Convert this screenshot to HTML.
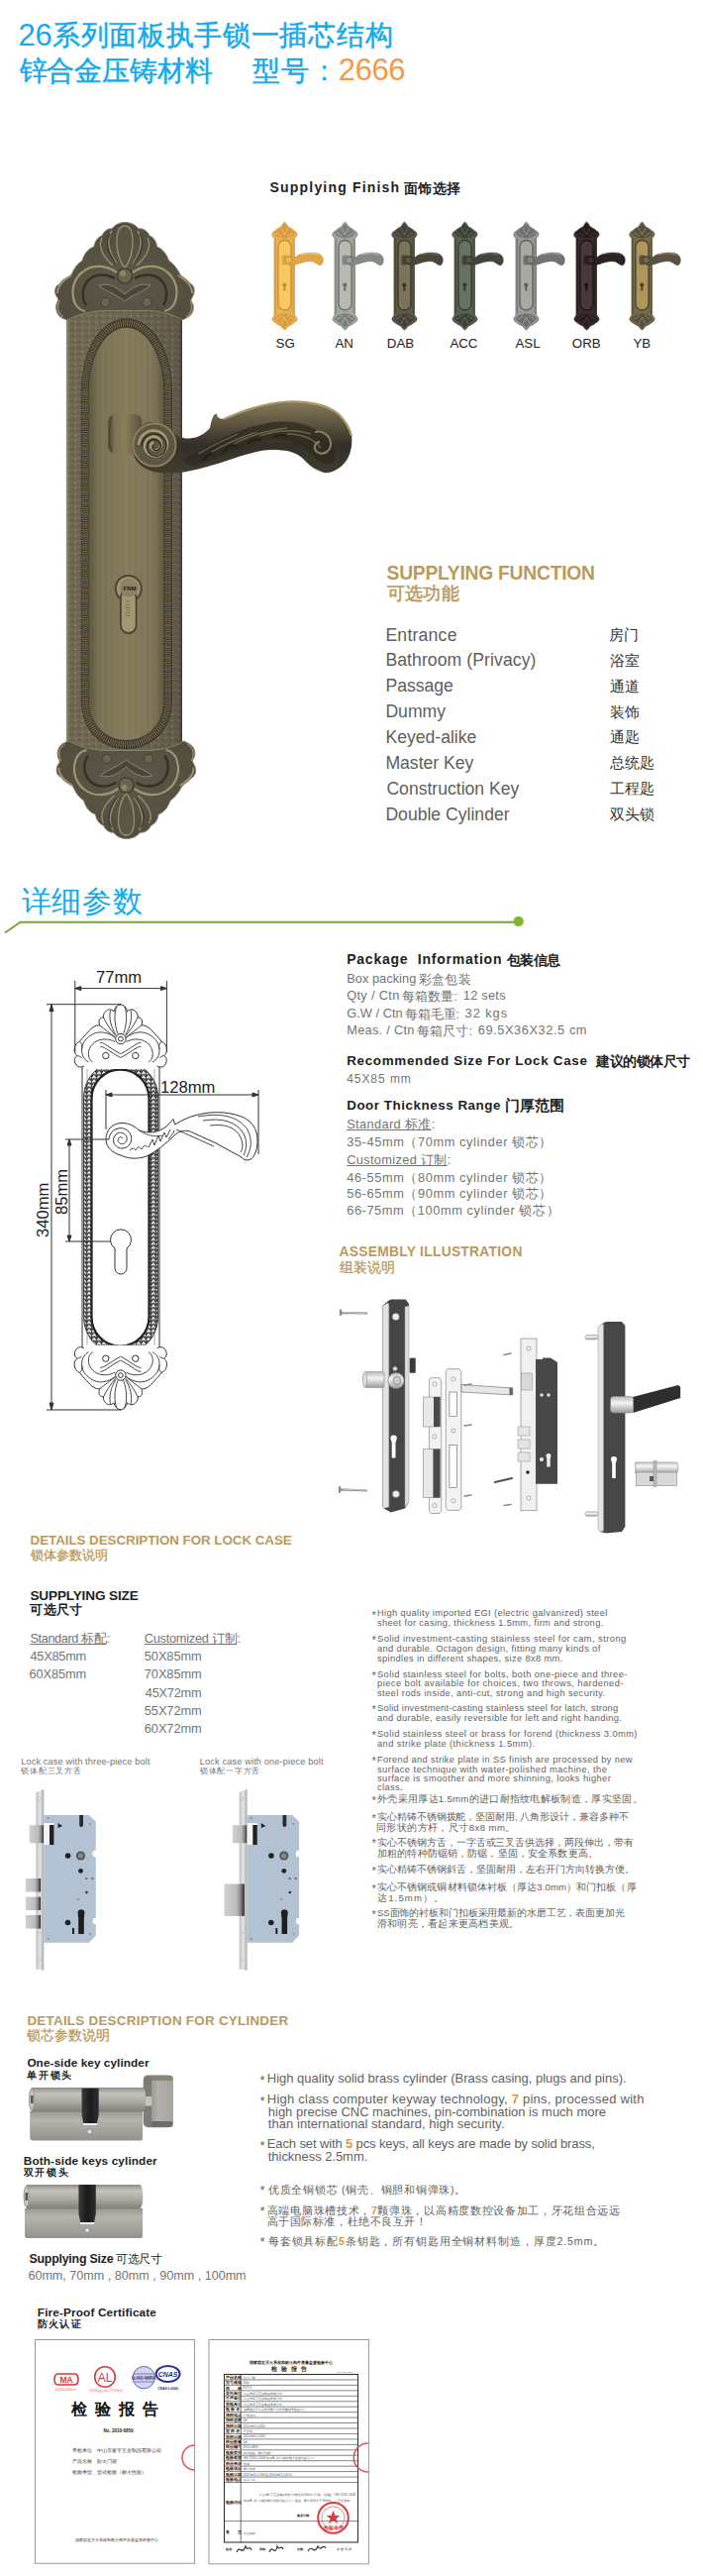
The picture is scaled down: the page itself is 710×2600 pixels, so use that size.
<!DOCTYPE html>
<html><head><meta charset="utf-8">
<style>
*{margin:0;padding:0;box-sizing:border-box}
html,body{width:710px;height:2600px;background:#fff;overflow:hidden}
body{position:relative;font-family:"Liberation Sans",sans-serif;color:#444}
.a{position:absolute;white-space:nowrap;line-height:1}
.t1{left:20px;font-size:28.5px;color:#1ea7e8;line-height:1}
.gold{color:#b99a5c;font-weight:bold}
.fn{font-size:16.5px;color:#555;line-height:1}
.fc{font-size:15px;color:#444;line-height:1}
.pk{font-size:13px;color:#555;line-height:1}
.pkh{font-size:14px;color:#222;font-weight:bold;line-height:1}
.u{text-decoration:underline}
.bl{font-size:9.6px;color:#555;line-height:10px}
.bl p{position:absolute;left:0;white-space:nowrap}
svg{position:absolute;overflow:visible}
</style></head><body>

<!-- SWATCHES -->
<svg style="left:275px;top:223.5px" width="60" height="112" viewBox="0 0 60 112">
<path d="M12.4,0 C14,1 15,3 16,5 C19,6 21,8 23,9.5 C25,10.5 25.5,12.5 24.5,14 C24,15 23,16 22.5,16.5 L22.5,94 C23,94.5 24,95.5 24.5,96.5 C25.5,98 25,100 23,101 C21,102.5 19,104 16,105 C15,107 14,108 12.4,109 C11,108 10,107 9,105 C6,104 4,102.5 2,101 C0,100 -0.5,98 0.5,96.5 C1,95.5 2,94.5 2,94 L2,16.5 C1.5,16 0.5,15 0,14 C-0.5,12.5 0,10.5 2,9.5 C4,8 6,6 9,5 C10,3 11,1 12.4,0 Z" fill="#e9b050" stroke="#c98a36" stroke-width="0.7"/>
<path d="M12.4,2 C15,5 20,8 23,11 C22,14 18,16 12.4,16.5 C7,16 3,14 1.8,11 C5,8 10,5 12.4,2 Z" fill="#d99a42"/>
<path d="M12.4,107 C15,104 20,101 23,98 C22,95 18,93 12.4,92.5 C7,93 3,95 1.8,98 C5,101 10,104 12.4,107 Z" fill="#d99a42"/>
<path d="M9,6 C10,9 12,11 12.4,13 C13,11 15,9 16,6 M4,11 C7,12 9,14 10,15 M21,11 C18,12 16,14 15,15 M9,103 C10,100 12,98 12.4,96 C13,98 15,100 16,103 M4,98 C7,97 9,95 10,94 M21,98 C18,97 16,95 15,94" stroke="#fff0b0" stroke-width="0.6" fill="none" opacity="0.8"/>
<path d="M3.5,17 L3.5,92 M21,17 L21,92" stroke="#c98a36" stroke-width="1" opacity="0.5"/>
<rect x="6" y="18.5" width="13" height="70.5" rx="6.5" fill="#f7c961" stroke="#c98a36" stroke-width="1.3"/>
<circle cx="12.3" cy="63.5" r="2.1" fill="#c98a36"/><rect x="11.3" y="63.5" width="2" height="6" fill="#c98a36"/>
<rect x="9.5" y="33.5" width="6" height="10" rx="2" fill="#e3a646"/>
<path d="M16,35 C19,34 20.5,35.5 22,36.5 C25,34.5 27,32.8 29,32.5 C34,31 40,30.5 45,31.5 C49,32.5 51.3,35 51.3,38.5 C51.3,41.5 50,43.8 48,43.8 C46,43.5 44,41 41,40 C36,39 31,40.5 27,42 C23,43.5 19,44 16,43 Z" fill="#e3a646" stroke="#c98a36" stroke-width="0.5"/>
<path d="M29,33 C35,31.5 42,31 47,33.5" stroke="#fff0b0" stroke-width="0.7" fill="none" opacity="0.8"/>
<circle cx="16.4" cy="38.5" r="4" fill="#e3a646" stroke="#c98a36" stroke-width="0.7"/>
<circle cx="16.6" cy="38.5" r="1.6" fill="none" stroke="#fff0b0" stroke-width="0.6" opacity="0.8"/>
</svg>
<svg style="left:336px;top:223.5px" width="60" height="112" viewBox="0 0 60 112">
<path d="M12.4,0 C14,1 15,3 16,5 C19,6 21,8 23,9.5 C25,10.5 25.5,12.5 24.5,14 C24,15 23,16 22.5,16.5 L22.5,94 C23,94.5 24,95.5 24.5,96.5 C25.5,98 25,100 23,101 C21,102.5 19,104 16,105 C15,107 14,108 12.4,109 C11,108 10,107 9,105 C6,104 4,102.5 2,101 C0,100 -0.5,98 0.5,96.5 C1,95.5 2,94.5 2,94 L2,16.5 C1.5,16 0.5,15 0,14 C-0.5,12.5 0,10.5 2,9.5 C4,8 6,6 9,5 C10,3 11,1 12.4,0 Z" fill="#a2a69e" stroke="#6a6e68" stroke-width="0.7"/>
<path d="M12.4,2 C15,5 20,8 23,11 C22,14 18,16 12.4,16.5 C7,16 3,14 1.8,11 C5,8 10,5 12.4,2 Z" fill="#7c807a"/>
<path d="M12.4,107 C15,104 20,101 23,98 C22,95 18,93 12.4,92.5 C7,93 3,95 1.8,98 C5,101 10,104 12.4,107 Z" fill="#7c807a"/>
<path d="M9,6 C10,9 12,11 12.4,13 C13,11 15,9 16,6 M4,11 C7,12 9,14 10,15 M21,11 C18,12 16,14 15,15 M9,103 C10,100 12,98 12.4,96 C13,98 15,100 16,103 M4,98 C7,97 9,95 10,94 M21,98 C18,97 16,95 15,94" stroke="#d8dcd4" stroke-width="0.6" fill="none" opacity="0.8"/>
<path d="M3.5,17 L3.5,92 M21,17 L21,92" stroke="#6a6e68" stroke-width="1" opacity="0.5"/>
<rect x="6" y="18.5" width="13" height="70.5" rx="6.5" fill="#b6bab2" stroke="#6a6e68" stroke-width="1.3"/>
<circle cx="12.3" cy="63.5" r="2.1" fill="#6a6e68"/><rect x="11.3" y="63.5" width="2" height="6" fill="#6a6e68"/>
<rect x="9.5" y="33.5" width="6" height="10" rx="2" fill="#868a84"/>
<path d="M16,35 C19,34 20.5,35.5 22,36.5 C25,34.5 27,32.8 29,32.5 C34,31 40,30.5 45,31.5 C49,32.5 51.3,35 51.3,38.5 C51.3,41.5 50,43.8 48,43.8 C46,43.5 44,41 41,40 C36,39 31,40.5 27,42 C23,43.5 19,44 16,43 Z" fill="#868a84" stroke="#6a6e68" stroke-width="0.5"/>
<path d="M29,33 C35,31.5 42,31 47,33.5" stroke="#d8dcd4" stroke-width="0.7" fill="none" opacity="0.8"/>
<circle cx="16.4" cy="38.5" r="4" fill="#868a84" stroke="#6a6e68" stroke-width="0.7"/>
<circle cx="16.6" cy="38.5" r="1.6" fill="none" stroke="#d8dcd4" stroke-width="0.6" opacity="0.8"/>
</svg>
<svg style="left:396px;top:223.5px" width="60" height="112" viewBox="0 0 60 112">
<path d="M12.4,0 C14,1 15,3 16,5 C19,6 21,8 23,9.5 C25,10.5 25.5,12.5 24.5,14 C24,15 23,16 22.5,16.5 L22.5,94 C23,94.5 24,95.5 24.5,96.5 C25.5,98 25,100 23,101 C21,102.5 19,104 16,105 C15,107 14,108 12.4,109 C11,108 10,107 9,105 C6,104 4,102.5 2,101 C0,100 -0.5,98 0.5,96.5 C1,95.5 2,94.5 2,94 L2,16.5 C1.5,16 0.5,15 0,14 C-0.5,12.5 0,10.5 2,9.5 C4,8 6,6 9,5 C10,3 11,1 12.4,0 Z" fill="#5e5846" stroke="#3a362b" stroke-width="0.7"/>
<path d="M12.4,2 C15,5 20,8 23,11 C22,14 18,16 12.4,16.5 C7,16 3,14 1.8,11 C5,8 10,5 12.4,2 Z" fill="#46423a"/>
<path d="M12.4,107 C15,104 20,101 23,98 C22,95 18,93 12.4,92.5 C7,93 3,95 1.8,98 C5,101 10,104 12.4,107 Z" fill="#46423a"/>
<path d="M9,6 C10,9 12,11 12.4,13 C13,11 15,9 16,6 M4,11 C7,12 9,14 10,15 M21,11 C18,12 16,14 15,15 M9,103 C10,100 12,98 12.4,96 C13,98 15,100 16,103 M4,98 C7,97 9,95 10,94 M21,98 C18,97 16,95 15,94" stroke="#9a9070" stroke-width="0.6" fill="none" opacity="0.8"/>
<path d="M3.5,17 L3.5,92 M21,17 L21,92" stroke="#3a362b" stroke-width="1" opacity="0.5"/>
<rect x="6" y="18.5" width="13" height="70.5" rx="6.5" fill="#7c7458" stroke="#3a362b" stroke-width="1.3"/>
<circle cx="12.3" cy="63.5" r="2.1" fill="#3a362b"/><rect x="11.3" y="63.5" width="2" height="6" fill="#3a362b"/>
<rect x="9.5" y="33.5" width="6" height="10" rx="2" fill="#4a4638"/>
<path d="M16,35 C19,34 20.5,35.5 22,36.5 C25,34.5 27,32.8 29,32.5 C34,31 40,30.5 45,31.5 C49,32.5 51.3,35 51.3,38.5 C51.3,41.5 50,43.8 48,43.8 C46,43.5 44,41 41,40 C36,39 31,40.5 27,42 C23,43.5 19,44 16,43 Z" fill="#4a4638" stroke="#3a362b" stroke-width="0.5"/>
<path d="M29,33 C35,31.5 42,31 47,33.5" stroke="#9a9070" stroke-width="0.7" fill="none" opacity="0.8"/>
<circle cx="16.4" cy="38.5" r="4" fill="#4a4638" stroke="#3a362b" stroke-width="0.7"/>
<circle cx="16.6" cy="38.5" r="1.6" fill="none" stroke="#9a9070" stroke-width="0.6" opacity="0.8"/>
</svg>
<svg style="left:457px;top:223.5px" width="60" height="112" viewBox="0 0 60 112">
<path d="M12.4,0 C14,1 15,3 16,5 C19,6 21,8 23,9.5 C25,10.5 25.5,12.5 24.5,14 C24,15 23,16 22.5,16.5 L22.5,94 C23,94.5 24,95.5 24.5,96.5 C25.5,98 25,100 23,101 C21,102.5 19,104 16,105 C15,107 14,108 12.4,109 C11,108 10,107 9,105 C6,104 4,102.5 2,101 C0,100 -0.5,98 0.5,96.5 C1,95.5 2,94.5 2,94 L2,16.5 C1.5,16 0.5,15 0,14 C-0.5,12.5 0,10.5 2,9.5 C4,8 6,6 9,5 C10,3 11,1 12.4,0 Z" fill="#586050" stroke="#343a2e" stroke-width="0.7"/>
<path d="M12.4,2 C15,5 20,8 23,11 C22,14 18,16 12.4,16.5 C7,16 3,14 1.8,11 C5,8 10,5 12.4,2 Z" fill="#3c4236"/>
<path d="M12.4,107 C15,104 20,101 23,98 C22,95 18,93 12.4,92.5 C7,93 3,95 1.8,98 C5,101 10,104 12.4,107 Z" fill="#3c4236"/>
<path d="M9,6 C10,9 12,11 12.4,13 C13,11 15,9 16,6 M4,11 C7,12 9,14 10,15 M21,11 C18,12 16,14 15,15 M9,103 C10,100 12,98 12.4,96 C13,98 15,100 16,103 M4,98 C7,97 9,95 10,94 M21,98 C18,97 16,95 15,94" stroke="#8a947a" stroke-width="0.6" fill="none" opacity="0.8"/>
<path d="M3.5,17 L3.5,92 M21,17 L21,92" stroke="#343a2e" stroke-width="1" opacity="0.5"/>
<rect x="6" y="18.5" width="13" height="70.5" rx="6.5" fill="#687260" stroke="#343a2e" stroke-width="1.3"/>
<circle cx="12.3" cy="63.5" r="2.1" fill="#343a2e"/><rect x="11.3" y="63.5" width="2" height="6" fill="#343a2e"/>
<rect x="9.5" y="33.5" width="6" height="10" rx="2" fill="#40463a"/>
<path d="M16,35 C19,34 20.5,35.5 22,36.5 C25,34.5 27,32.8 29,32.5 C34,31 40,30.5 45,31.5 C49,32.5 51.3,35 51.3,38.5 C51.3,41.5 50,43.8 48,43.8 C46,43.5 44,41 41,40 C36,39 31,40.5 27,42 C23,43.5 19,44 16,43 Z" fill="#40463a" stroke="#343a2e" stroke-width="0.5"/>
<path d="M29,33 C35,31.5 42,31 47,33.5" stroke="#8a947a" stroke-width="0.7" fill="none" opacity="0.8"/>
<circle cx="16.4" cy="38.5" r="4" fill="#40463a" stroke="#343a2e" stroke-width="0.7"/>
<circle cx="16.6" cy="38.5" r="1.6" fill="none" stroke="#8a947a" stroke-width="0.6" opacity="0.8"/>
</svg>
<svg style="left:519px;top:223.5px" width="60" height="112" viewBox="0 0 60 112">
<path d="M12.4,0 C14,1 15,3 16,5 C19,6 21,8 23,9.5 C25,10.5 25.5,12.5 24.5,14 C24,15 23,16 22.5,16.5 L22.5,94 C23,94.5 24,95.5 24.5,96.5 C25.5,98 25,100 23,101 C21,102.5 19,104 16,105 C15,107 14,108 12.4,109 C11,108 10,107 9,105 C6,104 4,102.5 2,101 C0,100 -0.5,98 0.5,96.5 C1,95.5 2,94.5 2,94 L2,16.5 C1.5,16 0.5,15 0,14 C-0.5,12.5 0,10.5 2,9.5 C4,8 6,6 9,5 C10,3 11,1 12.4,0 Z" fill="#989894" stroke="#5e5e5c" stroke-width="0.7"/>
<path d="M12.4,2 C15,5 20,8 23,11 C22,14 18,16 12.4,16.5 C7,16 3,14 1.8,11 C5,8 10,5 12.4,2 Z" fill="#6e6e6c"/>
<path d="M12.4,107 C15,104 20,101 23,98 C22,95 18,93 12.4,92.5 C7,93 3,95 1.8,98 C5,101 10,104 12.4,107 Z" fill="#6e6e6c"/>
<path d="M9,6 C10,9 12,11 12.4,13 C13,11 15,9 16,6 M4,11 C7,12 9,14 10,15 M21,11 C18,12 16,14 15,15 M9,103 C10,100 12,98 12.4,96 C13,98 15,100 16,103 M4,98 C7,97 9,95 10,94 M21,98 C18,97 16,95 15,94" stroke="#cfcfcb" stroke-width="0.6" fill="none" opacity="0.8"/>
<path d="M3.5,17 L3.5,92 M21,17 L21,92" stroke="#5e5e5c" stroke-width="1" opacity="0.5"/>
<rect x="6" y="18.5" width="13" height="70.5" rx="6.5" fill="#a8a8a4" stroke="#5e5e5c" stroke-width="1.3"/>
<circle cx="12.3" cy="63.5" r="2.1" fill="#5e5e5c"/><rect x="11.3" y="63.5" width="2" height="6" fill="#5e5e5c"/>
<rect x="9.5" y="33.5" width="6" height="10" rx="2" fill="#727270"/>
<path d="M16,35 C19,34 20.5,35.5 22,36.5 C25,34.5 27,32.8 29,32.5 C34,31 40,30.5 45,31.5 C49,32.5 51.3,35 51.3,38.5 C51.3,41.5 50,43.8 48,43.8 C46,43.5 44,41 41,40 C36,39 31,40.5 27,42 C23,43.5 19,44 16,43 Z" fill="#727270" stroke="#5e5e5c" stroke-width="0.5"/>
<path d="M29,33 C35,31.5 42,31 47,33.5" stroke="#cfcfcb" stroke-width="0.7" fill="none" opacity="0.8"/>
<circle cx="16.4" cy="38.5" r="4" fill="#727270" stroke="#5e5e5c" stroke-width="0.7"/>
<circle cx="16.6" cy="38.5" r="1.6" fill="none" stroke="#cfcfcb" stroke-width="0.6" opacity="0.8"/>
</svg>
<svg style="left:580px;top:223.5px" width="60" height="112" viewBox="0 0 60 112">
<path d="M12.4,0 C14,1 15,3 16,5 C19,6 21,8 23,9.5 C25,10.5 25.5,12.5 24.5,14 C24,15 23,16 22.5,16.5 L22.5,94 C23,94.5 24,95.5 24.5,96.5 C25.5,98 25,100 23,101 C21,102.5 19,104 16,105 C15,107 14,108 12.4,109 C11,108 10,107 9,105 C6,104 4,102.5 2,101 C0,100 -0.5,98 0.5,96.5 C1,95.5 2,94.5 2,94 L2,16.5 C1.5,16 0.5,15 0,14 C-0.5,12.5 0,10.5 2,9.5 C4,8 6,6 9,5 C10,3 11,1 12.4,0 Z" fill="#3a2c2c" stroke="#1c1414" stroke-width="0.7"/>
<path d="M12.4,2 C15,5 20,8 23,11 C22,14 18,16 12.4,16.5 C7,16 3,14 1.8,11 C5,8 10,5 12.4,2 Z" fill="#281e1e"/>
<path d="M12.4,107 C15,104 20,101 23,98 C22,95 18,93 12.4,92.5 C7,93 3,95 1.8,98 C5,101 10,104 12.4,107 Z" fill="#281e1e"/>
<path d="M9,6 C10,9 12,11 12.4,13 C13,11 15,9 16,6 M4,11 C7,12 9,14 10,15 M21,11 C18,12 16,14 15,15 M9,103 C10,100 12,98 12.4,96 C13,98 15,100 16,103 M4,98 C7,97 9,95 10,94 M21,98 C18,97 16,95 15,94" stroke="#6a5656" stroke-width="0.6" fill="none" opacity="0.8"/>
<path d="M3.5,17 L3.5,92 M21,17 L21,92" stroke="#1c1414" stroke-width="1" opacity="0.5"/>
<rect x="6" y="18.5" width="13" height="70.5" rx="6.5" fill="#48383a" stroke="#1c1414" stroke-width="1.3"/>
<circle cx="12.3" cy="63.5" r="2.1" fill="#1c1414"/><rect x="11.3" y="63.5" width="2" height="6" fill="#1c1414"/>
<rect x="9.5" y="33.5" width="6" height="10" rx="2" fill="#2c2222"/>
<path d="M16,35 C19,34 20.5,35.5 22,36.5 C25,34.5 27,32.8 29,32.5 C34,31 40,30.5 45,31.5 C49,32.5 51.3,35 51.3,38.5 C51.3,41.5 50,43.8 48,43.8 C46,43.5 44,41 41,40 C36,39 31,40.5 27,42 C23,43.5 19,44 16,43 Z" fill="#2c2222" stroke="#1c1414" stroke-width="0.5"/>
<path d="M29,33 C35,31.5 42,31 47,33.5" stroke="#6a5656" stroke-width="0.7" fill="none" opacity="0.8"/>
<circle cx="16.4" cy="38.5" r="4" fill="#2c2222" stroke="#1c1414" stroke-width="0.7"/>
<circle cx="16.6" cy="38.5" r="1.6" fill="none" stroke="#6a5656" stroke-width="0.6" opacity="0.8"/>
</svg>
<svg style="left:636px;top:223.5px" width="60" height="112" viewBox="0 0 60 112">
<path d="M12.4,0 C14,1 15,3 16,5 C19,6 21,8 23,9.5 C25,10.5 25.5,12.5 24.5,14 C24,15 23,16 22.5,16.5 L22.5,94 C23,94.5 24,95.5 24.5,96.5 C25.5,98 25,100 23,101 C21,102.5 19,104 16,105 C15,107 14,108 12.4,109 C11,108 10,107 9,105 C6,104 4,102.5 2,101 C0,100 -0.5,98 0.5,96.5 C1,95.5 2,94.5 2,94 L2,16.5 C1.5,16 0.5,15 0,14 C-0.5,12.5 0,10.5 2,9.5 C4,8 6,6 9,5 C10,3 11,1 12.4,0 Z" fill="#746a4c" stroke="#4a4232" stroke-width="0.7"/>
<path d="M12.4,2 C15,5 20,8 23,11 C22,14 18,16 12.4,16.5 C7,16 3,14 1.8,11 C5,8 10,5 12.4,2 Z" fill="#564e3e"/>
<path d="M12.4,107 C15,104 20,101 23,98 C22,95 18,93 12.4,92.5 C7,93 3,95 1.8,98 C5,101 10,104 12.4,107 Z" fill="#564e3e"/>
<path d="M9,6 C10,9 12,11 12.4,13 C13,11 15,9 16,6 M4,11 C7,12 9,14 10,15 M21,11 C18,12 16,14 15,15 M9,103 C10,100 12,98 12.4,96 C13,98 15,100 16,103 M4,98 C7,97 9,95 10,94 M21,98 C18,97 16,95 15,94" stroke="#d8b870" stroke-width="0.6" fill="none" opacity="0.8"/>
<path d="M3.5,17 L3.5,92 M21,17 L21,92" stroke="#4a4232" stroke-width="1" opacity="0.5"/>
<rect x="6" y="18.5" width="13" height="70.5" rx="6.5" fill="#b29658" stroke="#4a4232" stroke-width="1.3"/>
<circle cx="12.3" cy="63.5" r="2.1" fill="#4a4232"/><rect x="11.3" y="63.5" width="2" height="6" fill="#4a4232"/>
<rect x="9.5" y="33.5" width="6" height="10" rx="2" fill="#5a5242"/>
<path d="M16,35 C19,34 20.5,35.5 22,36.5 C25,34.5 27,32.8 29,32.5 C34,31 40,30.5 45,31.5 C49,32.5 51.3,35 51.3,38.5 C51.3,41.5 50,43.8 48,43.8 C46,43.5 44,41 41,40 C36,39 31,40.5 27,42 C23,43.5 19,44 16,43 Z" fill="#5a5242" stroke="#4a4232" stroke-width="0.5"/>
<path d="M29,33 C35,31.5 42,31 47,33.5" stroke="#d8b870" stroke-width="0.7" fill="none" opacity="0.8"/>
<circle cx="16.4" cy="38.5" r="4" fill="#5a5242" stroke="#4a4232" stroke-width="0.7"/>
<circle cx="16.6" cy="38.5" r="1.6" fill="none" stroke="#d8b870" stroke-width="0.6" opacity="0.8"/>
</svg>
<!-- MAIN LOCK -->
<svg style="left:0;top:200px" width="400" height="680" viewBox="0 200 400 680">
<defs>
<linearGradient id="plg" x1="0" x2="1" y1="0" y2="0">
<stop offset="0" stop-color="#a09676"/><stop offset="0.025" stop-color="#746c54"/><stop offset="0.5" stop-color="#726a54"/><stop offset="0.96" stop-color="#645d4a"/><stop offset="1" stop-color="#403c30"/>
</linearGradient>
<linearGradient id="ipg" x1="0" x2="1" y1="0" y2="0">
<stop offset="0" stop-color="#5e5842"/><stop offset="0.15" stop-color="#7a7254"/><stop offset="0.5" stop-color="#877d5e"/><stop offset="0.85" stop-color="#7e7556"/><stop offset="1" stop-color="#625a44"/>
</linearGradient>
<radialGradient id="crg" cx="0.5" cy="0.6" r="0.7">
<stop offset="0" stop-color="#5e594a"/><stop offset="1" stop-color="#4e4a3d"/>
</radialGradient>
<linearGradient id="hdg" x1="0" x2="0" y1="0" y2="1">
<stop offset="0" stop-color="#857a5a"/><stop offset="0.3" stop-color="#5e5640"/><stop offset="0.6" stop-color="#34302a"/><stop offset="1" stop-color="#423d30"/>
</linearGradient>
<linearGradient id="rsg" x1="0" x2="0" y1="0" y2="1">
<stop offset="0" stop-color="#8e8462"/><stop offset="0.5" stop-color="#776c4e"/><stop offset="1" stop-color="#4a4434"/>
</linearGradient>
<pattern id="rib" width="2" height="4" patternUnits="userSpaceOnUse"><rect width="2" height="4" fill="#433f33"/><rect width="0.8" height="4" fill="#7a7158"/></pattern>
<pattern id="ribh" width="4" height="2" patternUnits="userSpaceOnUse"><rect width="4" height="2" fill="#433f33"/><rect width="4" height="0.8" fill="#7a7158"/></pattern>
<pattern id="orn" width="7" height="6" patternUnits="userSpaceOnUse"><path d="M1,4.5 C1,2 3.5,1 4.5,2.6 C5.5,4.4 3,5.4 2.8,3.6" stroke="#3e3a2e" stroke-width="0.9" fill="none"/><circle cx="5.8" cy="1.2" r="0.7" fill="#a09476"/></pattern>
<g id="crown">
<path d="M126,224.6 C132,224.4 137,227 140,231 C144,230 149,233 151,238 C155,239 158,244 158.5,249 C164,251 168,256 170.5,263 C175,266 179,271 182.3,277.5 C186,281 190,283 192,286 C196,288 197,293 195.5,297 C194.5,300 192.5,302 193,304 C196,307 196.5,314 192,318.5 C189,321 186,322 184,323 C176,318 166,314.5 150,313.5 L104,313.5 C88,314.5 78,318 68,323 C65,322 62,321 60,319 C55.5,314 56,307 58.8,303 C59,301 57,299.5 56.2,297.4 C54.8,293 56,288 60,287 C62,283 66,281 72,277.5 C75,271 78,266 83,263.2 C85,256 89,251 95,249 C95.5,244 99,239 103,238 C105,233 110,230 113,231 C116,227 121,224.4 126,224.6 Z" fill="url(#crg)" stroke="#8a8062" stroke-width="1"/>
<!-- shell fan -->
<path d="M126,228 C131,228 134,234 134,244 C134,256 130,266 126,270 C122,266 118,256 118,244 C118,234 121,228 126,228 Z" fill="#5a5546" stroke="#9a8f6c" stroke-width="1.3"/>
<path d="M113,233 C108,240 108,252 118,266 M103,240 C99,248 103,258 114,268 M139,233 C144,240 144,252 134,266 M149,240 C153,248 149,258 138,268" stroke="#998e6a" stroke-width="1.4" fill="none"/>
<path d="M111,236 C106,244 108,254 117,266 M141,236 C146,244 144,254 135,266" stroke="#3a362b" stroke-width="1.2" fill="none"/>
<!-- knob -->
<circle cx="126" cy="278.5" r="7.5" fill="#6a6450" stroke="#3a3629" stroke-width="1.2"/>
<circle cx="124" cy="276" r="3" fill="#8e8566"/>
<!-- side scrolls -->
<path d="M118,275 C108,268 94,266 84,274 C76,280 72,290 74,300 C75,308 80,313 86,314" stroke="#a09470" stroke-width="2.2" fill="none"/>
<path d="M134,275 C144,268 158,266 168,274 C176,280 180,290 178,300 C177,308 172,313 166,314" stroke="#a09470" stroke-width="2.2" fill="none"/>
<path d="M116,281 C107,276 96,276 89,283 C83,290 82,300 87,308" stroke="#353126" stroke-width="2.5" fill="none"/>
<path d="M136,281 C145,276 156,276 163,283 C169,290 170,300 165,308" stroke="#353126" stroke-width="2.5" fill="none"/>
<path d="M100,288 C110,285 118,290 126,297 C134,290 142,285 152,288 C146,294 136,296 126,304 C116,296 106,294 100,288 Z" fill="#4a463a" stroke="#8f8566" stroke-width="1"/>
<circle cx="106.5" cy="305" r="4.6" fill="#6a6450" stroke="#3e3a2e" stroke-width="0.8"/>
<circle cx="148.5" cy="305" r="4.6" fill="#6a6450" stroke="#3e3a2e" stroke-width="0.8"/>
<!-- outer bulges -->
<path d="M72,278 C64,283 58,288 58,296 M180,278 C188,283 194,288 194,296" stroke="#a09470" stroke-width="1.8" fill="none"/>
<path d="M60,303 C57,310 58,316 64,320 M192,303 C195,310 194,316 188,320" stroke="#8f8566" stroke-width="1.5" fill="none"/>
</g>
</defs>
<!-- plate -->
<rect x="66.8" y="300" width="117.2" height="470" fill="url(#plg)"/>
<rect x="68.5" y="300" width="114" height="470" fill="url(#orn)" opacity="0.55"/>
<!-- ribbed border -->
<path d="M81.9,396 C81.9,352 102,321.6 127.5,321.6 C153,321.6 174,352 174,396 L174,707 C174,737 153,756 127.5,756 C102,756 81.9,737 81.9,707 Z" fill="#3c382e"/>
<path d="M85.75,396 C85.75,356 104,326 127.5,326 C151,326 169.7,356 169.7,396 L169.7,707 C169.7,733 151,751.5 127.5,751.5 C104,751.5 85.75,733 85.75,707 Z" fill="none" stroke="#827858" stroke-width="6.5" stroke-dasharray="0.8 1.4"/>
<!-- inner panel -->
<path d="M89.6,396 C89.6,360 106,330.7 127.5,330.7 C149,330.7 165.4,360 165.4,396 L165.4,707 C165.4,730 149,747 127.5,747 C106,747 89.6,730 89.6,707 Z" fill="url(#ipg)"/>
<g stroke="#7a7050" stroke-width="0.5" opacity="0.6">
<path d="M96,370 V730 M101,355 V738 M107,343 V743 M113,336 V745 M119,332 V746 M124,331 V747 M131,331 V747 M137,332 V746 M143,336 V745 M149,343 V743 M155,355 V738 M160,370 V730"/>
</g>
<g stroke="#9a8e6a" stroke-width="0.5" opacity="0.5">
<path d="M98,362 V734 M104,348 V740 M110,339 V744 M116,334 V745 M122,331 V746 M128,331 V747 M134,332 V746 M140,334 V745 M146,339 V744 M152,348 V740 M158,362 V734"/>
</g>
<!-- top crown -->
<use href="#crown"/>
<!-- bottom crown (mirrored) -->
<g transform="translate(1.5,1071) scale(1,-1)"><use href="#crown"/></g>
<!-- keyhole -->
<circle cx="129.7" cy="594" r="14" fill="#4a4535"/>
<circle cx="129.7" cy="594" r="12" fill="#a39670"/>
<rect x="121" y="594" width="17.5" height="46" rx="8.7" fill="#4a4535"/>
<rect x="122.8" y="596" width="13.9" height="42" rx="7" fill="#a39670"/>
<circle cx="130.5" cy="593" r="9.5" fill="#8e8260"/>
<text x="131" y="596" font-size="6" font-weight="bold" text-anchor="middle" fill="#1c1c1c" font-family="Liberation Sans, sans-serif">FNM</text>
<text transform="translate(127,606) rotate(90)" font-size="6" fill="#6a6046" font-family="Liberation Sans, sans-serif">FUYU</text>
<!-- handle rose -->
<defs><linearGradient id="rsh" x1="0" x2="1" y1="0" y2="0"><stop offset="0" stop-color="#4e4838"/><stop offset="0.2" stop-color="#7e7354"/><stop offset="0.5" stop-color="#8a7e5c"/><stop offset="1" stop-color="#5a5240"/></linearGradient></defs>
<rect x="109.2" y="418" width="34" height="40" rx="7" fill="url(#rsh)"/>
<path d="M113,420 C110,428 110,448 113,456" stroke="#4a4434" stroke-width="1.2" fill="none"/>
<!-- lever -->
<path d="M150,426 C162,425 172,436 185,442 C195,444 205,440 212,432 C214,422 216,417 219,418 C219,421 222,423 226,422.7 C236,419 246,414 256,411.6 C266,408 276,406 286,405.5 C298,405 308,405.5 316,406.5 C328,408 336,412 342,418 C349,425 354,432 355.2,440 C356,450 354,457 351.5,462 C348,468 344,472 338,475 C334,477 330,477.5 327,477 C318,474 313,470 309,466 C304,460 298,457 292,455.5 C282,453.5 272,453.5 264,455 C254,457 246,459.5 238,462 C226,466 214,470 200,473.5 C190,476 178,478 166,477.5 C152,477 140,471 136,462 C132,452 138,428 150,426 Z" fill="url(#hdg)"/>
<!-- dark ornate center -->
<path d="M186,462 C200,456 214,448 230,440 C246,432 262,428 278,426 C296,424 312,428 326,438 C336,446 340,456 338,466 C332,470 326,470 318,462 C310,452 300,446 288,444 C272,442 256,446 242,452 C228,458 214,466 196,470 C188,470 184,466 186,462 Z" fill="#2e2b22" opacity="0.75"/>
<path d="M200,458 C214,450 226,444 240,438 M214,456 C228,448 244,441 260,436 M236,448 C252,440 270,434 290,432 M262,440 C280,434 298,433 314,438 M290,438 C304,438 316,442 324,452" stroke="#6e6448" stroke-width="1.3" fill="none"/>
<path d="M205,465 c4,-6 8,-8 12,-6 M226,456 c4,-6 9,-8 13,-5 M250,448 c5,-5 10,-6 14,-3 M276,442 c5,-4 10,-4 14,-1" stroke="#1e1c16" stroke-width="1.5" fill="none"/>
<path d="M226,423 C246,414 266,407 290,405.5 C310,405 330,409 342,418 C349,425 353,432 355,440" stroke="#a8996c" stroke-width="2.2" fill="none"/>
<path d="M318,436 C326,434 334,440 334,448 C334,456 326,460 320,456 C316,452 318,446 323,446" stroke="#8c8060" stroke-width="2" fill="none"/>
<!-- scroll -->
<circle cx="156" cy="449" r="21.5" fill="#5e5644"/>
<circle cx="156" cy="449" r="21.5" fill="none" stroke="#8a7e5c" stroke-width="2"/>
<path d="M140.0,449.0 L140.4,446.3 L141.3,443.7 L142.5,441.3 L144.2,439.2 L146.2,437.5 L148.4,436.1 L150.8,435.1 L153.3,434.6 L155.8,434.5 L158.2,434.9 L160.6,435.6 L162.7,436.8 L164.6,438.2 L166.2,440.0 L167.5,442.0 L168.4,444.1 L168.9,446.3 L169.0,448.6 L168.7,450.8 L168.0,452.9 L167.0,454.8 L165.7,456.5 L164.2,458.0 L162.4,459.1 L160.5,459.9 L158.5,460.3 L156.5,460.4 L154.6,460.2 L152.7,459.6 L151.0,458.7 L149.5,457.6 L148.3,456.3 L147.3,454.7 L146.6,453.1 L146.2,451.4 L146.1,449.6 L146.3,447.9 L146.8,446.3 L147.5,444.9 L148.5,443.6 L149.7,442.5 L151.0,441.6 L152.4,441.0 L153.9,440.7 L155.3,440.6 L156.8,440.8 L158.1,441.2 L159.4,441.9 L160.4,442.7 L161.3,443.7 L162.0,444.7 L162.5,445.9 L162.8,447.1 L162.9,448.4 L162.7,449.5 L162.3,450.6 L161.8,451.6 L161.1,452.5 L160.3,453.2 L159.5,453.8 L158.5,454.1 L157.5,454.3 L156.6,454.3 L155.7,454.2 L154.8,453.9 L154.1,453.5 L153.4,452.9 L152.9,452.3 L152.5,451.6 L152.3,450.9 L152.2,450.2 L152.2,449.5 L152.3,448.8 L152.6,448.2 L152.9,447.7 L153.3,447.3 L153.8,447.0 L154.3,446.8 L154.8,446.6 L155.2,446.6" stroke="#a89a74" stroke-width="2.6" fill="none"/>
<path d="M142.8,450.5 L143.1,448.2 L143.8,446.1 L144.9,444.1 L146.2,442.3 L147.8,440.8 L149.6,439.6 L151.6,438.7 L153.6,438.1 L155.7,437.9 L157.8,438.0 L159.8,438.5 L161.6,439.3 L163.3,440.4 L164.8,441.7 L166.0,443.2 L167.0,444.9 L167.6,446.7 L167.9,448.6 L167.9,450.4 L167.7,452.2 L167.1,453.9 L166.3,455.5 L165.2,456.9 L163.9,458.1 L162.5,459.0 L161.0,459.7 L159.4,460.1 L157.7,460.3 L156.1,460.1 L154.6,459.7 L153.2,459.1 L151.9,458.3 L150.8,457.2 L149.9,456.1 L149.2,454.8 L148.7,453.4 L148.5,452.0 L148.5,450.6 L148.7,449.3 L149.2,448.0 L149.8,446.9 L150.6,445.9 L151.6,445.0 L152.6,444.4 L153.8,443.9 L154.9,443.7 L156.1,443.6 L157.2,443.7 L158.3,444.0 L159.3,444.5 L160.2,445.1 L160.9,445.8 L161.5,446.7 L161.9,447.6 L162.2,448.5 L162.3,449.5 L162.2,450.4 L162.0,451.2 L161.7,452.1 L161.3,452.8 L160.7,453.4 L160.1,453.9 L159.4,454.2 L158.7,454.5 L158.0,454.6 L157.2,454.6 L156.6,454.4 L156.0,454.2 L155.4,453.9 L155.0,453.5 L154.6,453.0 L154.3,452.5 L154.2,452.0 L154.1,451.5 L154.1,451.0 L154.2,450.6 L154.4,450.2 L154.6,449.8 L154.9,449.5 L155.2,449.3" stroke="#2e2a20" stroke-width="1.4" fill="none"/>
</svg>
<!-- HEADER LINE -->
<svg style="left:0;top:920px" width="540" height="30" viewBox="0 920 540 30">
<path d="M5,941.5 L20.5,930.7 L523,930.7" stroke="#7aa23a" stroke-width="2" fill="none"/>
<circle cx="523.7" cy="929.9" r="5.2" fill="#7cb92c"/>
</svg>
<!-- DRAWING -->
<svg style="left:0;top:960px" width="300" height="480" viewBox="0 960 300 480" font-family="Liberation Sans, sans-serif">
<defs>
<pattern id="chain" width="5" height="4.2" patternUnits="userSpaceOnUse"><rect width="5" height="4.2" fill="#e8e8e8"/><path d="M0.2,0.6 L2.5,3.2 L4.8,0.6" stroke="#222" stroke-width="1.3" fill="none"/><circle cx="2.5" cy="0.8" r="0.9" fill="#444"/></pattern>
</defs>
<!-- plate outline -->
<path d="M83,1060 L83,1372 M161,1060 L161,1372" stroke="#333" stroke-width="1"/>
<path d="M84.6,1108 L84.6,1329 C84.6,1350 101,1367 122,1367 C143,1367 159.6,1350 159.6,1329 L159.6,1108 C159.6,1087 143,1071 122,1071 C101,1071 84.6,1087 84.6,1108 Z" fill="url(#chain)" stroke="#333" stroke-width="1"/>
<path d="M92.5,1109 L92.5,1329 C92.5,1345 105,1358.6 121.5,1358.6 C138,1358.6 150.5,1345 150.5,1329 L150.5,1109 C150.5,1093 138,1079.6 121.5,1079.6 C105,1079.6 92.5,1093 92.5,1109 Z" fill="#fff" stroke="#222" stroke-width="2.2"/>
<path d="M88,1070 L88,1365 M156,1070 L156,1365" stroke="#555" stroke-width="0.8" opacity="0.6"/>
<!-- top crown -->
<g id="dcrown">
<path d="M121.3,1013.9 C125,1013.9 128,1017 128.5,1021 C131,1018 135,1018.5 137,1021 C139,1023 139.5,1025 139,1027 C142,1026.5 144,1029 143.5,1032 C143.5,1033.5 143,1034.5 142.7,1035 C147,1034 152,1038 156,1043.2 C159,1046 161.5,1049 163,1051.2 C166,1052 168.5,1055.5 168.5,1059.5 C168.5,1062.5 167,1064.5 165.8,1065.5 C168,1067 169,1070 167.6,1073 C166.5,1076 164,1077.5 161,1077 L158.7,1076 L158.7,1079 L121.3,1079 Z" fill="#fff"/>
<g transform="translate(243.6,0) scale(-1,1)"><path d="M121.3,1013.9 C125,1013.9 128,1017 128.5,1021 C131,1018 135,1018.5 137,1021 C139,1023 139.5,1025 139,1027 C142,1026.5 144,1029 143.5,1032 C143.5,1033.5 143,1034.5 142.7,1035 C147,1034 152,1038 156,1043.2 C159,1046 161.5,1049 163,1051.2 C166,1052 168.5,1055.5 168.5,1059.5 C168.5,1062.5 167,1064.5 165.8,1065.5 C168,1067 169,1070 167.6,1073 C166.5,1076 164,1077.5 161,1077 L158.7,1076 L158.7,1079 L121.3,1079 Z" fill="#fff"/></g>
<g stroke="#333" stroke-width="1" fill="none">
<path d="M121.3,1013.9 C125,1013.9 128,1017 128.5,1021 C131,1018 135,1018.5 137,1021 C139,1023 139.5,1025 139,1027 C142,1026.5 144,1029 143.5,1032 C143.5,1033.5 143,1034.5 142.7,1035 C147,1034 152,1038 156,1043.2 C159,1046 161.5,1049 163,1051.2 C166,1052 168.5,1055.5 168.5,1059.5 C168.5,1062.5 167,1064.5 165.8,1065.5 C168,1067 169,1070 167.6,1073 C166.5,1076 164,1077.5 161,1077 L158.7,1076"/>
<path d="M125.5,1015.5 C128.5,1021 128.5,1034 124.5,1043.5 M132,1019.5 C134,1027 131.5,1037 126.5,1044.5 M139,1027 C136,1034 131,1040 127,1045.5 M142.7,1035 C138,1039 132,1043 127.5,1047 M127,1047.5 C135,1041 145,1040 152,1045 C158,1049 161,1054 161,1060 C161,1066 158,1070 154,1072 M127.5,1051.5 C134,1048 142,1048 148,1052 C153,1056 155,1061 154,1066 C153.5,1069 152,1071 150,1072 M122,1063.7 C127,1061 131,1058.3 136,1055 C139,1053 141,1052 142.5,1052.5 M122,1067.5 C127,1064.8 131,1062 136,1058.8 C139,1057 141,1056 142.5,1056.5 M163,1051.2 C161,1053 160,1056 161,1059 M165.8,1065.5 C163,1066 161.5,1067 161,1068" stroke-width="0.9"/>
<g transform="translate(243.6,0) scale(-1,1)"><path d="M121.3,1013.9 C125,1013.9 128,1017 128.5,1021 C131,1018 135,1018.5 137,1021 C139,1023 139.5,1025 139,1027 C142,1026.5 144,1029 143.5,1032 C143.5,1033.5 143,1034.5 142.7,1035 C147,1034 152,1038 156,1043.2 C159,1046 161.5,1049 163,1051.2 C166,1052 168.5,1055.5 168.5,1059.5 C168.5,1062.5 167,1064.5 165.8,1065.5 C168,1067 169,1070 167.6,1073 C166.5,1076 164,1077.5 161,1077 L158.7,1076"/><path d="M125.5,1015.5 C128.5,1021 128.5,1034 124.5,1043.5 M132,1019.5 C134,1027 131.5,1037 126.5,1044.5 M139,1027 C136,1034 131,1040 127,1045.5 M142.7,1035 C138,1039 132,1043 127.5,1047 M127,1047.5 C135,1041 145,1040 152,1045 C158,1049 161,1054 161,1060 C161,1066 158,1070 154,1072 M127.5,1051.5 C134,1048 142,1048 148,1052 C153,1056 155,1061 154,1066 C153.5,1069 152,1071 150,1072 M122,1063.7 C127,1061 131,1058.3 136,1055 C139,1053 141,1052 142.5,1052.5 M122,1067.5 C127,1064.8 131,1062 136,1058.8 C139,1057 141,1056 142.5,1056.5 M163,1051.2 C161,1053 160,1056 161,1059 M165.8,1065.5 C163,1066 161.5,1067 161,1068" stroke-width="0.9"/></g>
<circle cx="121.9" cy="1048.6" r="5.2" fill="#fff"/><circle cx="121.9" cy="1048.6" r="2.4"/>
<circle cx="106.8" cy="1065.5" r="3.2" fill="#fff"/><circle cx="136.8" cy="1065.5" r="3.2" fill="#fff"/>
</g>
</g>
<!-- bottom crown -->
<g transform="translate(0,2436.7) scale(1,-1)"><use href="#dcrown"/></g>
<!-- handle -->
<g stroke="#333" stroke-width="1" fill="#fff">
<path d="M107,1150 C107,1140 114,1133.5 123,1133.5 C131,1133.5 136,1137 140,1140.5 C150,1145 160,1143 168,1137 L175,1129.5 L176.5,1135 C185,1130 192,1127 198,1125.6 C210,1122 228,1121 243.6,1126.9 C252,1130 258,1137 259.5,1145 C261,1155 259,1165 254,1169.5 C250,1172 246,1171 244,1168 L218,1153.8 L192.4,1142.2 C186,1140 180,1142 176,1146 C168,1154 158,1162 148,1167 C140,1170 130,1170 122,1166 C114,1164 107,1158 107,1150 Z"/>
<path d="M110.0,1150.0 L110.3,1147.9 L110.9,1146.0 L111.9,1144.2 L113.1,1142.5 L114.5,1141.2 L116.2,1140.1 L118.0,1139.3 L119.9,1138.8 L121.8,1138.6 L123.7,1138.8 L125.5,1139.3 L127.2,1140.0 L128.7,1141.0 L130.0,1142.3 L131.1,1143.7 L131.9,1145.3 L132.5,1147.0 L132.7,1148.7 L132.7,1150.4 L132.3,1152.1 L131.7,1153.7 L130.9,1155.1 L129.8,1156.3 L128.6,1157.4 L127.2,1158.2 L125.7,1158.7 L124.2,1159.0 L122.7,1159.1 L121.2,1158.9 L119.8,1158.4 L118.5,1157.7 L117.3,1156.8 L116.3,1155.8 L115.5,1154.6 L115.0,1153.3 L114.7,1152.0 L114.6,1150.7 L114.7,1149.3 L115.0,1148.1 L115.5,1146.9 L116.3,1145.9 L117.1,1145.0 L118.1,1144.2 L119.2,1143.7 L120.3,1143.3 L121.5,1143.2 L122.6,1143.2 L123.7,1143.5 L124.8,1143.9 L125.7,1144.5 L126.5,1145.2 L127.2,1146.0 L127.7,1146.9 L128.0,1147.8 L128.2,1148.8 L128.2,1149.8 L128.0,1150.7 L127.7,1151.6 L127.2,1152.4 L126.7,1153.0 L126.0,1153.6 L125.3,1154.0 L124.5,1154.3 L123.8,1154.5 L123.0,1154.5 L122.2,1154.4 L121.5,1154.2 L120.9,1153.9 L120.3,1153.4 L119.9,1152.9 L119.5,1152.4 L119.3,1151.8 L119.1,1151.2 L119.1,1150.6 L119.2,1150.0 L119.3,1149.5 L119.6,1149.0 L119.9,1148.6 L120.3,1148.2 L120.7,1148.0 L121.1,1147.8 L121.5,1147.7 L122.0,1147.7 L122.4,1147.8 L122.7,1147.9 L123.0,1148.1 L123.3,1148.3 L123.5,1148.6 L123.6,1148.8 L123.7,1149.1" fill="none"/>
<path d="M200,1127 C222,1123 240,1126 250,1140 C255,1150 254,1160 249,1168 M205,1131 C225,1128 238,1132 246,1144 C250,1152 249,1160 246,1166 M212,1136 C228,1134 238,1138 243,1148 C246,1155 245,1160 243,1163" fill="none" stroke-width="0.9"/>
<path d="M178,1140 L196,1148 L216,1157" fill="none" stroke-width="0.9"/>
<path d="M131,1161 c3,-3 5,-2 6,0 c2,-4 4,-4 6,-1 c2,-4 4,-5 6,-2 M150,1158 l4,-8 l2,6 l4,-10 l2,6 l4,-9 l2,5 l4,-8 M170,1150 c3,-4 5,-6 6,-9" fill="none" stroke-width="0.9"/>
<path d="M140,1140.5 C148,1146 156,1148 164,1146" fill="none" stroke-width="0.8"/>
</g>
<!-- keyhole -->
<path d="M116,1260 A10.5,10.5 0 1,1 128,1260 L128,1280 A6,6 0 0,1 116,1280 Z" fill="#fff" stroke="#333" stroke-width="1"/>
<g stroke="#333" stroke-width="1" fill="none">
<!-- dim 77 -->
<path d="M75.8,997.6 L168.4,997.6 M75.8,990 L75.8,1062 M168.4,990 L168.4,1062"/>
<path d="M75.8,997.6 l6,-2 l0,4 z M168.4,997.6 l-6,-2 l0,4 z" fill="#333"/>
<!-- dim 340 -->
<path d="M52,1013.7 L52,1423 M47,1013.7 L122,1013.7 M47,1423 L122,1423"/>
<path d="M52,1013.7 l-2,7 l4,0 z M52,1423 l-2,-7 l4,0 z" fill="#333"/>
<!-- dim 85 -->
<path d="M70,1150 L70,1253 M66,1150 L110,1150 M66,1253 L112,1253"/>
<path d="M70,1150 l-2,6 l4,0 z M70,1253 l-2,-6 l4,0 z" fill="#333"/>
<!-- dim 128 -->
<path d="M107,1105 L261,1105 M107,1100 L107,1140 M261,1100 L261,1165"/>
<path d="M107,1105 l6,-2 l0,4 z M261,1105 l-6,-2 l0,4 z" fill="#333"/>
</g>
<!-- labels -->
<text x="97" y="991.9" font-size="16.6" fill="#222">77mm</text>
<text x="162" y="1103" font-size="16.6" fill="#222">128mm</text>
<text transform="translate(67.5,1226) rotate(-90)" font-size="16.6" fill="#222">85mm</text>
<text transform="translate(48.5,1249) rotate(-90)" font-size="16.6" fill="#222">340mm</text>
</svg>
<!-- ASSEMBLY -->
<svg style="left:330px;top:1300px" width="370" height="260" viewBox="330 1300 370 260">
<defs>
<linearGradient id="rose" x1="0" x2="0" y1="0" y2="1"><stop offset="0" stop-color="#bbb"/><stop offset="0.4" stop-color="#f4f4f4"/><stop offset="1" stop-color="#9a9a9a"/></linearGradient>
<linearGradient id="cyl" x1="0" x2="0" y1="0" y2="1"><stop offset="0" stop-color="#c8c8c8"/><stop offset="0.35" stop-color="#f6f6f6"/><stop offset="1" stop-color="#a0a0a0"/></linearGradient>
</defs>
<!-- left screws -->
<g>
<path d="M344,1322.5 L344,1327 M344,1324.8 L370,1325.5" stroke="#888" stroke-width="2.2" stroke-linecap="round"/>
<path d="M346,1324.6 L369,1325.3" stroke="#ddd" stroke-width="0.8"/>
<path d="M343,1501 L343,1506 M343,1503.3 L369.7,1504.5" stroke="#888" stroke-width="2.2" stroke-linecap="round"/>
<path d="M346,1503.2 L369,1504.3" stroke="#ddd" stroke-width="0.8"/>
</g>
<!-- left plate -->
<path d="M386.4,1318 L392,1313 L394.7,1311.5 L409.7,1311.5 L413,1316 L413,1516 L409,1522.4 L394.7,1526.5 L387.6,1522.4 L386.4,1520 Z" fill="#454545"/>
<path d="M386.4,1318 L392,1315 L392.8,1317 L392.8,1521 L387.6,1522.4 L386.4,1520 Z" fill="#e2e2e2" stroke="#999" stroke-width="0.5"/>
<path d="M409,1319 L413,1318 L413,1516 L409,1521 Z" fill="#dcdcdc" stroke="#999" stroke-width="0.5"/>
<rect x="413.7" y="1370.7" width="6" height="15" fill="#3a3a3a"/>
<circle cx="399.7" cy="1329" r="3.6" fill="#ececec" stroke="#777" stroke-width="0.6"/>
<circle cx="399.9" cy="1508" r="3.6" fill="#ececec" stroke="#777" stroke-width="0.6"/>
<path d="M397.6,1448.5 a3.2,3.2 0 0,1 3.2,3.4 l-1.3,4 l0,15.6 l-3.8,0 l0,-15.6 l-1.3,-4 a3.2,3.2 0 0,1 3.2,-3.4 Z" fill="#fff"/>
<!-- rose / spindle -->
<rect x="368" y="1384.6" width="20" height="16" rx="2" fill="url(#rose)" stroke="#888" stroke-width="0.6"/>
<ellipse cx="368.5" cy="1392.6" rx="2" ry="8" fill="#e0e0e0" stroke="#888" stroke-width="0.6"/>
<circle cx="400" cy="1393.5" r="8" fill="url(#rose)" stroke="#888" stroke-width="0.6"/>
<circle cx="401" cy="1393.5" r="4" fill="#ccc" stroke="#666" stroke-width="0.6"/>
<circle cx="399" cy="1381.5" r="2.2" fill="#ddd" stroke="#777" stroke-width="0.5"/>
<!-- strike plate 1 -->
<path d="M433.4,1393 L435,1390.6 L444,1390.6 L445.8,1393 L445.8,1525 L444,1527.5 L435,1527.5 L433.4,1525 Z" fill="#f2f2f2" stroke="#888" stroke-width="0.7"/>
<rect x="427.5" y="1410" width="17" height="30" fill="#e8e8e8" stroke="#888" stroke-width="0.6"/>
<rect x="438" y="1410" width="6.5" height="30" fill="#4a4a4a"/>
<rect x="427.5" y="1462.6" width="17" height="49" fill="#e8e8e8" stroke="#888" stroke-width="0.6"/>
<rect x="437.4" y="1462.6" width="7" height="49" fill="#4a4a4a"/>
<circle cx="439" cy="1397" r="2" fill="#fff" stroke="#777" stroke-width="0.6"/>
<circle cx="438.8" cy="1449.8" r="2" fill="#fff" stroke="#777" stroke-width="0.6"/>
<circle cx="438.8" cy="1519.5" r="2" fill="#fff" stroke="#777" stroke-width="0.6"/>
<!-- strike plate 2 -->
<path d="M450.2,1384 L452,1381.7 L464,1381.7 L465.9,1384 L465.9,1522 L464,1524.4 L452,1524.4 L450.2,1522 Z" fill="#f2f2f2" stroke="#888" stroke-width="0.7"/>
<rect x="453.9" y="1405" width="7.7" height="24.3" fill="#fff" stroke="#777" stroke-width="0.7"/>
<rect x="453.9" y="1458.4" width="7.7" height="43.2" fill="#fff" stroke="#777" stroke-width="0.7"/>
<circle cx="457.9" cy="1392" r="2" fill="#fff" stroke="#777" stroke-width="0.6"/>
<circle cx="457.9" cy="1444" r="2" fill="#fff" stroke="#777" stroke-width="0.6"/>
<circle cx="457.9" cy="1514.7" r="2" fill="#fff" stroke="#777" stroke-width="0.6"/>
<!-- spindle bar -->
<path d="M466,1397.5 L517.8,1401 L517.8,1408 L466,1405 Z" fill="#e6e6e6" stroke="#777" stroke-width="0.7"/>
<rect x="514.5" y="1400.5" width="3.3" height="7.5" fill="#666"/>
<!-- small screws -->
<g stroke="#888" stroke-width="1.6" stroke-linecap="round">
<path d="M469,1398 L476,1397"/><path d="M469,1439 L476,1438"/><path d="M469,1510 L476,1509"/>
<path d="M509,1367.5 L516,1366"/><path d="M509,1519.5 L516,1518.5"/>
<path d="M500,1496 L517,1492" stroke="#555" stroke-width="2.2"/>
</g>
<!-- lock case -->
<rect x="526" y="1351" width="16" height="173.7" fill="#f0f0f0" stroke="#888" stroke-width="0.7"/>
<path d="M541,1372 L548,1372 L548,1370.5 L556,1370.5 L563,1375 L563,1497.7 L541,1497.7 Z" fill="#484848"/>
<rect x="526.5" y="1386" width="11" height="17" fill="#d8d8d8" stroke="#888" stroke-width="0.5"/>
<rect x="523" y="1440" width="12" height="9" fill="#e4e4e4" stroke="#888" stroke-width="0.5"/>
<rect x="523" y="1453" width="12" height="9" fill="#e4e4e4" stroke="#888" stroke-width="0.5"/>
<rect x="523" y="1466" width="12" height="9" fill="#e4e4e4" stroke="#888" stroke-width="0.5"/>
<circle cx="534" cy="1361" r="2" fill="#fff" stroke="#777" stroke-width="0.6"/>
<circle cx="534" cy="1512" r="2" fill="#fff" stroke="#777" stroke-width="0.6"/>
<circle cx="533" cy="1486" r="1.8" fill="#222"/>
<path d="M554,1467 a2.5,2.5 0 0,1 2.5,2.5 l-0.8,3 l0,8 l-3.4,0 l0,-8 l-0.8,-3 a2.5,2.5 0 0,1 2.5,-2.5 Z" fill="#eee"/>
<circle cx="547" cy="1473" r="2" fill="#eee"/>
<circle cx="547" cy="1408" r="1.8" fill="#ddd"/><circle cx="554" cy="1408" r="1.8" fill="#ddd"/>
<!-- right plate -->
<path d="M604,1340 L608,1336 L612,1334 L628,1334 L631.4,1338 L631.4,1541 L628,1546 L612,1547.5 L606,1546 L604,1543 Z" fill="#474747"/>
<path d="M604,1340 L608,1336 L609.5,1337 L609.5,1545 L606,1546 L604,1543 Z" fill="#e4e4e4" stroke="#999" stroke-width="0.5"/>
<rect x="591" y="1347.5" width="13" height="4.5" rx="2" fill="url(#cyl)" stroke="#888" stroke-width="0.5"/>
<rect x="591" y="1525.8" width="13" height="4.5" rx="2" fill="url(#cyl)" stroke="#888" stroke-width="0.5"/>
<path d="M620,1470 a3,3 0 0,1 3,3.2 l-1.2,3.8 l0,15 l-3.6,0 l0,-15 l-1.2,-3.8 a3,3 0 0,1 3,-3.2 Z" fill="#fff"/>
<!-- lever -->
<path d="M639,1410 L685,1398 L687.2,1400 L687.2,1411 L639.4,1426 Z" fill="#2e2e2e"/>
<rect x="616.6" y="1409.5" width="23" height="16.5" rx="3" fill="url(#rose)" stroke="#888" stroke-width="0.6"/>
<!-- cylinder -->
<path d="M641.7,1476 L683,1476 C685.5,1476 685.5,1487 683,1487 L641.7,1487 Z" fill="url(#cyl)" stroke="#888" stroke-width="0.6"/>
<rect x="642.5" y="1486" width="41" height="13.5" fill="#d8d8d8" stroke="#888" stroke-width="0.6"/>
<rect x="660" y="1474.5" width="3" height="26" fill="#bbb" stroke="#777" stroke-width="0.4"/>
<rect x="656" y="1490" width="4" height="5" fill="#555"/>
</svg>
<!-- LOCK CASES -->
<svg style="left:0;top:1800px" width="360" height="195" viewBox="0 1800 360 195">
<defs>
<linearGradient id="fe" x1="0" x2="1" y1="0" y2="0"><stop offset="0" stop-color="#bdbdbd"/><stop offset="0.5" stop-color="#e6e6e6"/><stop offset="1" stop-color="#a9a9a9"/></linearGradient>
<linearGradient id="bolt" x1="0" x2="1" y1="0" y2="0"><stop offset="0" stop-color="#d0d0d0"/><stop offset="0.6" stop-color="#bcbcbc"/><stop offset="0.8" stop-color="#8a8a8a"/><stop offset="1" stop-color="#2a2a2a"/></linearGradient>
<g id="lcbody">
<path d="M44.3,1832 L89.8,1832 L96.8,1838.4 L96.8,1867.5 A3.2,3.2 0 0,0 96.8,1874.5 L96.8,1935.8 A3.2,3.2 0 0,0 96.8,1942.2 L96.8,1953.6 L89.8,1960.7 L44.3,1960.7 Z" fill="#b2c2d2"/>
<path d="M80.2,1832 L84,1832 L84,1842 A1.9,1.9 0 0,1 80.2,1842 Z" fill="#2a2a2a"/>
<path d="M44.3,1840 L54.5,1840 L54.5,1862 L44.3,1862 Z" fill="#f4f4f4"/>
<path d="M50,1842 L54.5,1842 L54.5,1862 L50,1862 Z" fill="#222"/>
<path d="M58.5,1840 L63,1843 L58.5,1845 Z" fill="#222"/>
<circle cx="81.5" cy="1873" r="4.6" fill="#555"/><circle cx="81.5" cy="1873" r="2.6" fill="#8a8a8a"/>
<circle cx="68.6" cy="1873" r="2.8" fill="#222"/>
<circle cx="81.5" cy="1888.3" r="2.4" fill="#222"/>
<rect x="86" y="1895" width="2.5" height="2" fill="#777"/><rect x="92" y="1895" width="2.5" height="2" fill="#777"/>
<circle cx="87.5" cy="1910" r="1.2" fill="#222"/>
<circle cx="79" cy="1917" r="1.2" fill="#998"/>
<path d="M78.5,1930 A3.6,3.6 0 0,1 85.5,1930 L84.8,1936 L84.8,1952 L79.2,1952 L79.2,1936 Z" fill="#1e1e1e"/>
<circle cx="68.5" cy="1940.5" r="2.8" fill="#222"/>
<path d="M73,1946 L75,1946 L75,1952 L73,1952 Z" fill="#222"/>
<circle cx="48.5" cy="1835" r="1" fill="#887"/><circle cx="91" cy="1841" r="1" fill="#887"/><circle cx="48.5" cy="1957" r="1" fill="#887"/><circle cx="91" cy="1952" r="1" fill="#887"/>
</g>
</defs>
<!-- case 1 -->
<path d="M36.4,1809 L44.3,1805.8 L44.3,1988.8 L36.4,1987.5 Z" fill="url(#fe)"/>
<circle cx="39.5" cy="1815.5" r="1.1" fill="#fff" stroke="#888" stroke-width="0.4"/>
<circle cx="39.5" cy="1978.5" r="1.1" fill="#fff" stroke="#888" stroke-width="0.4"/>
<circle cx="39.5" cy="1951" r="1.1" fill="#fff" stroke="#888" stroke-width="0.4"/>
<rect x="29.6" y="1842.2" width="14.7" height="18" fill="url(#bolt)"/>
<rect x="25.8" y="1896" width="15.3" height="13.5" fill="url(#bolt)"/>
<rect x="25.8" y="1914.6" width="15.3" height="13.4" fill="url(#bolt)"/>
<rect x="25.8" y="1933" width="15.3" height="13.6" fill="url(#bolt)"/>
<use href="#lcbody"/>
<!-- case 2 -->
<g transform="translate(205.3,0)">
<path d="M36.4,1809 L44.3,1805.8 L44.3,1988.8 L36.4,1987.5 Z" fill="url(#fe)"/>
<circle cx="39.5" cy="1815.5" r="1.1" fill="#fff" stroke="#888" stroke-width="0.4"/>
<circle cx="39.5" cy="1978.5" r="1.1" fill="#fff" stroke="#888" stroke-width="0.4"/>
<circle cx="39.5" cy="1951" r="1.1" fill="#fff" stroke="#888" stroke-width="0.4"/>
<rect x="29.6" y="1842.2" width="14.7" height="18" fill="url(#bolt)"/>
<rect x="21.1" y="1901.5" width="20.5" height="32.4" fill="url(#bolt)"/>
<use href="#lcbody"/>
</g>
</svg>
<!-- CYLINDERS -->
<svg style="left:0;top:2085px" width="200" height="185" viewBox="0 2085 200 185">
<defs>
<linearGradient id="cu" x1="0" x2="0" y1="0" y2="1"><stop offset="0" stop-color="#8e8c86"/><stop offset="0.25" stop-color="#c4c2bb"/><stop offset="0.6" stop-color="#acaaa3"/><stop offset="1" stop-color="#82807a"/></linearGradient>
<linearGradient id="cl" x1="0" x2="0" y1="0" y2="1"><stop offset="0" stop-color="#9c9a93"/><stop offset="0.3" stop-color="#b5b3ac"/><stop offset="1" stop-color="#94928c"/></linearGradient>
<linearGradient id="kn" x1="0" x2="1" y1="0" y2="0"><stop offset="0" stop-color="#9a9892"/><stop offset="0.3" stop-color="#b2b0aa"/><stop offset="1" stop-color="#a6a49e"/></linearGradient>
<linearGradient id="cam" x1="0" x2="1" y1="0" y2="0"><stop offset="0" stop-color="#3a3a3a"/><stop offset="0.5" stop-color="#1a1a1a"/><stop offset="1" stop-color="#2e2e2e"/></linearGradient>
</defs>
<!-- cylinder 1 -->
<rect x="144.7" y="2094.4" width="29.9" height="52.9" rx="5" fill="#7e7c76"/>
<rect x="153" y="2095" width="21.6" height="6" rx="2" fill="#8a8478"/>
<rect x="153" y="2100" width="21.6" height="41" fill="url(#kn)"/>
<rect x="153" y="2141" width="21.6" height="5.8" rx="2" fill="#6e6c66"/>
<rect x="142" y="2116" width="11.3" height="9.5" fill="#c4c2bb"/>
<path d="M33,2107 L144.5,2107 C146.5,2107 147,2112 147,2119 C147,2126 146.5,2131 144.5,2131 L33,2131 C30,2131 29.1,2125 29.1,2119 C29.1,2113 30,2107 33,2107 Z" fill="url(#cu)"/>
<path d="M30.2,2131 L144,2131 L144,2158.5 C144,2160 143,2160.5 141.5,2160.5 L33,2160.5 C31,2160.5 30.2,2159 30.2,2157 Z" fill="url(#cl)"/>
<path d="M30.2,2131.5 L144,2131.5" stroke="#8a8882" stroke-width="0.8"/>
<ellipse cx="32" cy="2119" rx="2.6" ry="10.5" fill="#c9c7c0" stroke="#8a8882" stroke-width="0.6"/>
<path d="M31,2115 L33.5,2115 L33.5,2123 L31,2123 Z" fill="#555"/>
<path d="M82.6,2107.8 L99.7,2107.8 L99.7,2135 L97.5,2144.6 L84.5,2144.6 L82.6,2135 Z" fill="url(#cam)"/>
<path d="M84,2143 L98,2143 L98,2145 L84,2145 Z" fill="#eee"/>
<circle cx="90.5" cy="2151.4" r="2.6" fill="#ddd" stroke="#777" stroke-width="0.7"/>
<!-- cylinder 2 -->
<path d="M28,2205 L141,2205 C143,2205 144.3,2210 144.3,2217 C144.3,2224 143,2229 141,2229 L28,2229 C25,2229 23.8,2223 23.8,2217 C23.8,2211 25,2205 28,2205 Z" fill="url(#cu)"/>
<path d="M25,2229 L144,2229 L144,2257 C144,2258.5 143,2259 141.5,2259 L27.5,2259 C25.5,2259 25,2258 25,2256 Z" fill="url(#cl)"/>
<path d="M25,2229.5 L144,2229.5" stroke="#8a8882" stroke-width="0.8"/>
<ellipse cx="26.7" cy="2217" rx="2.6" ry="10.5" fill="#c9c7c0" stroke="#8a8882" stroke-width="0.6"/>
<path d="M25.5,2213 L28.2,2213 L28.2,2221 L25.5,2221 Z" fill="#555"/>
<path d="M79.4,2205 L96.8,2205 L96.8,2234 L94.8,2244.6 L81.4,2244.6 L79.4,2234 Z" fill="url(#cam)"/>
<path d="M81,2243 L95,2243 L95,2245 L81,2245 Z" fill="#eee"/>
<circle cx="88" cy="2251" r="2.6" fill="#ddd" stroke="#777" stroke-width="0.7"/>
</svg>
<!-- CERTIFICATES -->
<svg style="left:0;top:2355px" width="400" height="240" viewBox="0 2355 400 240" font-family="Liberation Sans, sans-serif">
<rect x="35.5" y="2361.5" width="161" height="225.8" fill="#fff" stroke="#9a9a9a" stroke-width="1"/>
<g fill="none" stroke="#d83a3a" stroke-width="1.6">
<path d="M58,2396 C54,2397 54,2406 58,2407 L76,2407 C80,2406 80,2397 76,2396 Z"/>
<circle cx="106" cy="2399" r="10.3"/>
</g>
<text x="67" y="2405" font-size="8.5" font-weight="bold" fill="#d83a3a" text-anchor="middle">MA</text>
<text x="106" y="2404" font-size="12" fill="#d83a3a" text-anchor="middle">AL</text>
<text x="66" y="2413" font-size="3" fill="#e66" text-anchor="middle">(2009)000482号</text>
<text x="107" y="2413.5" font-size="3" fill="#e66" text-anchor="middle">(2009)国认监认字(094)号</text>
<circle cx="145.3" cy="2399.7" r="11.2" fill="#d4d4ec" stroke="#6a6ab0" stroke-width="1"/>
<path d="M135,2396 L156,2396 M134.5,2400 L156.5,2400 M135,2404 L156,2404" stroke="#7a7ab8" stroke-width="1"/>
<text x="145.3" y="2401.5" font-size="5" font-weight="bold" fill="#4a4a9a" text-anchor="middle">ILAC-MRA</text>
<ellipse cx="169.6" cy="2396" rx="12" ry="8" fill="#fff" stroke="#27338a" stroke-width="2"/>
<text x="169.6" y="2398.5" font-size="7" font-weight="bold" fill="#27338a" text-anchor="middle" font-style="italic">CNAS</text>
<text x="169.6" y="2411.5" font-size="3.5" font-weight="bold" fill="#27338a" text-anchor="middle">CNAS L0000</text>
<text x="120" y="2436.5" font-size="15.5" font-weight="bold" fill="#111" text-anchor="middle" letter-spacing="8">检验报告</text>
<text x="119.5" y="2455" font-size="4.5" font-weight="bold" fill="#222" text-anchor="middle">No. 2010-6859</text>
<g font-size="4.6" fill="#333">
<text x="73" y="2475">受检单位　中山市富宇五金制品有限公司</text>
<text x="73" y="2486.3">产品名称　防火门锁</text>
<text x="73" y="2497.4">检验类型　型式检验（耐火性能）</text>
</g>
<text x="117.5" y="2564.5" font-size="3.8" fill="#333" text-anchor="middle">国家固定灭火系统和耐火构件质量监督检验中心</text>
<path d="M196.5,2468 A12,12 0 0,0 196.5,2493" fill="none" stroke="#e05050" stroke-width="1.5"/>
<!-- cert 2 -->
<rect x="211" y="2361.5" width="161.4" height="226.3" fill="#fff" stroke="#9a9a9a" stroke-width="1"/>
<text x="294" y="2386" font-size="3.9" font-weight="bold" fill="#222" text-anchor="middle">国家固定灭火系统和耐火构件质量监督检验中心</text>
<text x="293.5" y="2393" font-size="5.5" font-weight="bold" fill="#222" text-anchor="middle" letter-spacing="4">检验报告</text>
<text x="357" y="2395" font-size="2.5" fill="#666" text-anchor="end">No. 2010-6859</text>
<g stroke="#333" fill="none">
<rect x="226.5" y="2396.5" width="135" height="169.5" stroke-width="1.1"/>
<path d="M243.2,2396.5 L243.2,2566" stroke-width="0.7"/>
<path d="M226.5,2401.95 H361.5 M226.5,2407.40 H361.5 M226.5,2412.85 H361.5 M226.5,2418.30 H361.5 M226.5,2423.75 H361.5 M226.5,2429.20 H361.5 M226.5,2434.65 H361.5 M226.5,2440.10 H361.5 M226.5,2445.55 H361.5 M226.5,2451.00 H361.5 M226.5,2456.45 H361.5 M226.5,2461.90 H361.5 M226.5,2467.35 H361.5 M226.5,2472.80 H361.5 M226.5,2478.25 H361.5 M226.5,2483.70 H361.5 M226.5,2489.15 H361.5 M226.5,2494.60 H361.5 M226.5,2500.05 H361.5 M226.5,2505.50 H361.5 M226.5,2544.6 H361.5" stroke-width="0.6"/>
</g>
<g font-size="3.6" fill="#222" font-weight="bold">
<text x="228" y="2400.60">产品名称</text><text x="228" y="2406.05">型号规格</text><text x="228" y="2411.50">商　　标</text><text x="228" y="2416.95">委托单位</text><text x="228" y="2422.40">生产单位</text><text x="228" y="2427.85">受检单位</text><text x="228" y="2433.30">检 验 者</text><text x="228" y="2438.75">抽样地点</text><text x="228" y="2444.20">抽样基数</text><text x="228" y="2449.65">抽样日期</text><text x="228" y="2455.10">送 样 者</text><text x="228" y="2460.55">送样日期</text><text x="228" y="2466.00">样品数量</text><text x="228" y="2471.45">样品编号</text><text x="228" y="2476.90">检验类别</text><text x="228" y="2482.35">检验依据</text><text x="228" y="2487.80">样品等级</text><text x="228" y="2493.25">检验项目</text><text x="228" y="2498.70">检验日期</text><text x="228" y="2504.15">检验地点</text>
<text x="228" y="2526.5">检验结论</text><text x="228" y="2557">备　　注</text>
</g>
<g font-size="3.2" fill="#555">
<text x="245.5" y="2400.50">防火门锁</text><text x="245.5" y="2405.95">26型</text><text x="245.5" y="2411.40">FUYU</text><text x="245.5" y="2416.85">中山市富宇五金制品有限公司</text><text x="245.5" y="2422.30">中山市富宇五金制品有限公司</text><text x="245.5" y="2427.75">中山市富宇五金制品有限公司</text><text x="245.5" y="2433.20">国家固定灭火系统和耐火构件质量监督检验中心</text><text x="245.5" y="2438.65">广东省内</text><text x="245.5" y="2444.10">1把</text><text x="245.5" y="2449.55">2010年11月05日</text><text x="245.5" y="2455.00">叶文明</text><text x="245.5" y="2460.45">2010年11月05日</text><text x="245.5" y="2465.90">1把</text><text x="245.5" y="2471.35">2010-6859</text><text x="245.5" y="2476.80">型式检验（耐火性能）</text><text x="245.5" y="2482.25">GB 12955-2008 附录A《防火锁的耐火性能试验方法》</text><text x="245.5" y="2487.70">合格</text><text x="245.5" y="2493.15">耐火性能</text><text x="245.5" y="2498.60">2010年11月24日至2010年12月02日</text><text x="245.5" y="2504.05">本中心内</text>
<text x="262" y="2519" textLength="97" lengthAdjust="spacingAndGlyphs">中山市富宇五金制品有限公司送检的26型防火门锁，经检验（GB 12955-2008</text>
<text x="246" y="2524.5" textLength="110" lengthAdjust="spacingAndGlyphs">附录A《防火锁的耐火性能试验方法》检验，耐火时间大于90min。（正文空白）</text>
<text x="300" y="2540" font-weight="bold" fill="#222">签发日期：</text>
<text x="246" y="2557.5">本栏空白</text>
</g>
<circle cx="336.5" cy="2541.4" r="15.3" fill="none" stroke="#e03a3a" stroke-width="2"/>
<circle cx="336.5" cy="2541.4" r="11.5" fill="none" stroke="#e86a6a" stroke-width="0.8"/>
<path d="M336.5,2534 l2,5 l5,0 l-4,3 l1.5,5 l-4.5,-3 l-4.5,3 l1.5,-5 l-4,-3 l5,0 z" fill="#e03a3a"/>
<text x="336.5" y="2553" font-size="4.5" fill="#e03a3a" text-anchor="middle" font-weight="bold">检验专用</text>
<g font-size="3.2" fill="#222" font-weight="bold"><text x="228" y="2574">批准:</text><text x="262" y="2574">审核:</text><text x="300" y="2574">主检:</text><text x="340" y="2574" font-weight="normal">报 告 日 期: </text></g>
<path d="M239,2576 c3,-8 6,4 9,-6 c2,6 4,-2 6,4 M272,2576 c3,-9 6,5 8,-6 c2,5 4,-2 6,3 M311,2575 c4,-8 6,5 10,-5 c3,6 5,-3 8,2" stroke="#333" stroke-width="1.2" fill="none"/>
<path d="M371.8,2466 A13,13 0 0,0 371.8,2495" fill="none" stroke="#e05050" stroke-width="1.5"/>
</svg>
<!-- TEXT -->
<div class="a" style="left:18.60px;top:19.60px;font-size:31px;color:#14aaec;letter-spacing:-0.342px;">26</div>
<div class="a" style="left:52.80px;top:21.90px;font-size:27.5px;color:#14aaec;letter-spacing:0.705px;-webkit-text-stroke:0.5px currentColor;">系列面板执手锁一插芯结构</div>
<div class="a" style="left:19.60px;top:58.10px;font-size:27.5px;color:#14aaec;letter-spacing:-0.143px;-webkit-text-stroke:0.5px currentColor;">锌合金压铸材料</div>
<div class="a" style="left:255.40px;top:58.10px;font-size:27.5px;color:#14aaec;letter-spacing:0.800px;-webkit-text-stroke:0.5px currentColor;">型号</div>
<div class="a" style="left:313.10px;top:57.18px;font-size:28.5px;color:#14aaec;">：</div>
<div class="a" style="left:341.80px;top:55.00px;font-size:31px;color:#f39a44;letter-spacing:-0.409px;">2666</div>
<div class="a" style="left:272.60px;top:182.40px;font-size:14px;color:#222;font-weight:bold;letter-spacing:1.185px;">Supplying Finish</div>
<div class="a" style="left:407.60px;top:183.98px;font-size:13.5px;color:#222;font-weight:bold;letter-spacing:0.500px;">面饰选择</div>
<div class="a" style="left:278.60px;top:339.50px;font-size:13.3px;color:#222;">SG</div>
<div class="a" style="left:338.40px;top:339.50px;font-size:13.3px;color:#222;">AN</div>
<div class="a" style="left:390.80px;top:339.50px;font-size:13.3px;color:#222;">DAB</div>
<div class="a" style="left:454.40px;top:339.50px;font-size:13.3px;color:#222;">ACC</div>
<div class="a" style="left:520.40px;top:339.50px;font-size:13.3px;color:#222;">ASL</div>
<div class="a" style="left:577.80px;top:339.50px;font-size:13.3px;color:#222;">ORB</div>
<div class="a" style="left:639.40px;top:339.50px;font-size:13.3px;color:#222;">YB</div>
<div class="a" style="left:390.60px;top:568.70px;font-size:19.3px;color:#b99a5c;font-weight:bold;letter-spacing:-0.252px;">SUPPLYING FUNCTION</div>
<div class="a" style="left:390.60px;top:589.84px;font-size:18px;color:#b99a5c;letter-spacing:0.417px;-webkit-text-stroke:0.5px currentColor;">可选功能</div>
<div class="a" style="left:389.40px;top:632.50px;font-size:17.6px;color:#5e5e5e;letter-spacing:0.233px;">Entrance</div>
<div class="a" style="left:615.00px;top:633.00px;font-size:15px;color:#333;">房门</div>
<div class="a" style="left:389.40px;top:658.20px;font-size:17.6px;color:#5e5e5e;letter-spacing:0.086px;">Bathroom (Privacy)</div>
<div class="a" style="left:616.00px;top:658.70px;font-size:15px;color:#333;">浴室</div>
<div class="a" style="left:389.40px;top:684.00px;font-size:17.6px;color:#5e5e5e;">Passage</div>
<div class="a" style="left:616.00px;top:684.50px;font-size:15px;color:#333;">通道</div>
<div class="a" style="left:389.40px;top:710.00px;font-size:17.6px;color:#5e5e5e;">Dummy</div>
<div class="a" style="left:616.00px;top:710.50px;font-size:15px;color:#333;">装饰</div>
<div class="a" style="left:389.40px;top:735.90px;font-size:17.6px;color:#5e5e5e;">Keyed-alike</div>
<div class="a" style="left:616.00px;top:736.40px;font-size:15px;color:#333;">通匙</div>
<div class="a" style="left:389.40px;top:761.80px;font-size:17.6px;color:#5e5e5e;">Master Key</div>
<div class="a" style="left:616.00px;top:762.30px;font-size:15px;color:#333;">总统匙</div>
<div class="a" style="left:390.40px;top:787.70px;font-size:17.6px;color:#5e5e5e;">Construction Key</div>
<div class="a" style="left:616.00px;top:788.20px;font-size:15px;color:#333;">工程匙</div>
<div class="a" style="left:389.40px;top:813.60px;font-size:17.6px;color:#5e5e5e;">Double Cylinder</div>
<div class="a" style="left:616.00px;top:814.10px;font-size:15px;color:#333;">双头锁</div>
<div class="a" style="left:21.80px;top:894.96px;font-size:29.5px;color:#14aaec;letter-spacing:0.583px;">详细参数</div>
<div class="a" style="left:350.20px;top:961.10px;font-size:14px;color:#222;font-weight:bold;letter-spacing:0.773px;">Package&nbsp; Information</div>
<div class="a" style="left:511.60px;top:962.84px;font-size:13.8px;color:#222;font-weight:bold;letter-spacing:-0.542px;">包装信息</div>
<div class="a" style="left:350.20px;top:982.40px;font-size:12.8px;color:#747474;letter-spacing:0.035px;">Box packing</div>
<div class="a" style="left:422.60px;top:981.94px;font-size:13px;color:#747474;letter-spacing:0.333px;">彩盒包装</div>
<div class="a" style="left:350.20px;top:999.40px;font-size:12.8px;color:#747474;letter-spacing:0.333px;">Qty / Ctn</div>
<div class="a" style="left:406.40px;top:1000.00px;font-size:12.5px;color:#747474;">每箱数量:</div>
<div class="a" style="left:467.80px;top:999.40px;font-size:12.8px;color:#747474;letter-spacing:0.245px;">12 sets</div>
<div class="a" style="left:350.20px;top:1016.80px;font-size:12.8px;color:#747474;letter-spacing:0.036px;">G.W / Ctn</div>
<div class="a" style="left:408.60px;top:1017.50px;font-size:12.5px;color:#747474;">每箱毛重:</div>
<div class="a" style="left:469.60px;top:1016.80px;font-size:12.8px;color:#747474;letter-spacing:0.960px;">32 kgs</div>
<div class="a" style="left:350.20px;top:1033.90px;font-size:12.8px;color:#747474;letter-spacing:0.281px;">Meas. / Ctn</div>
<div class="a" style="left:421.40px;top:1034.50px;font-size:12.5px;color:#747474;">每箱尺寸:</div>
<div class="a" style="left:482.80px;top:1033.90px;font-size:12.8px;color:#747474;letter-spacing:0.571px;">69.5X36X32.5 cm</div>
<div class="a" style="left:350.20px;top:1064.10px;font-size:13.4px;color:#222;font-weight:bold;letter-spacing:0.698px;">Recommended Size For Lock Case</div>
<div class="a" style="left:602.00px;top:1064.86px;font-size:13.7px;color:#222;font-weight:bold;letter-spacing:-0.452px;">建议的锁体尺寸</div>
<div class="a" style="left:350.20px;top:1083.30px;font-size:12px;color:#747474;letter-spacing:0.944px;">45X85 mm</div>
<div class="a" style="left:350.20px;top:1108.80px;font-size:13.4px;color:#222;font-weight:bold;letter-spacing:0.536px;">Door Thickness Range</div>
<div class="a" style="left:510.00px;top:1108.56px;font-size:14.5px;color:#222;font-weight:bold;letter-spacing:0.083px;">门厚范围</div>
<div class="a" style="left:350.20px;top:1129.00px;font-size:12.8px;color:#747474;letter-spacing:0.368px;"><u>Standard 标准</u>:</div>
<div class="a" style="left:350.20px;top:1147.00px;font-size:12.8px;color:#747474;letter-spacing:0.598px;">35-45mm（70mm cylinder 锁芯）</div>
<div class="a" style="left:350.20px;top:1165.00px;font-size:12.8px;color:#747474;letter-spacing:0.341px;"><u>Customized 订制</u>:</div>
<div class="a" style="left:350.20px;top:1182.60px;font-size:12.8px;color:#747474;letter-spacing:0.598px;">46-55mm（80mm cylinder 锁芯）</div>
<div class="a" style="left:350.20px;top:1199.30px;font-size:12.8px;color:#747474;letter-spacing:0.598px;">56-65mm（90mm cylinder 锁芯）</div>
<div class="a" style="left:350.20px;top:1216.30px;font-size:12.8px;color:#747474;letter-spacing:0.577px;">66-75mm（100mm cylinder 锁芯）</div>
<div class="a" style="left:342.60px;top:1256.90px;font-size:13.8px;color:#b99a5c;font-weight:bold;letter-spacing:0.282px;">ASSEMBLY ILLUSTRATION</div>
<div class="a" style="left:342.60px;top:1272.86px;font-size:13.7px;color:#b99a5c;letter-spacing:0.083px;-webkit-text-stroke:0.3px currentColor;">组装说明</div>
<div class="a" style="left:30.60px;top:1548.10px;font-size:13.4px;color:#b99a5c;font-weight:bold;letter-spacing:-0.062px;">DETAILS DESCRIPTION FOR LOCK CASE</div>
<div class="a" style="left:30.60px;top:1563.95px;font-size:12.9px;color:#b99a5c;letter-spacing:0.140px;-webkit-text-stroke:0.3px currentColor;">锁体参数说明</div>
<div class="a" style="left:30.40px;top:1604.40px;font-size:13.6px;color:#222;font-weight:bold;letter-spacing:-0.151px;">SUPPLYING SIZE</div>
<div class="a" style="left:30.40px;top:1618.40px;font-size:13.3px;color:#222;font-weight:bold;letter-spacing:0.250px;">可选尺寸</div>
<div class="a" style="left:30.40px;top:1648.00px;font-size:12.8px;color:#747474;letter-spacing:-0.406px;"><u>Standard 标配</u>:</div>
<div class="a" style="left:145.80px;top:1648.00px;font-size:12.8px;color:#747474;letter-spacing:-0.272px;"><u>Customized 订制</u>:</div>
<div class="a" style="left:30.40px;top:1665.80px;font-size:12.8px;color:#747474;letter-spacing:-0.242px;">45X85mm</div>
<div class="a" style="left:145.80px;top:1665.80px;font-size:12.8px;color:#747474;letter-spacing:-0.075px;">50X85mm</div>
<div class="a" style="left:29.40px;top:1683.90px;font-size:12.8px;color:#747474;letter-spacing:-0.075px;">60X85mm</div>
<div class="a" style="left:145.80px;top:1683.90px;font-size:12.8px;color:#747474;letter-spacing:-0.075px;">70X85mm</div>
<div class="a" style="left:146.80px;top:1702.70px;font-size:12.8px;color:#747474;letter-spacing:-0.242px;">45X72mm</div>
<div class="a" style="left:145.80px;top:1720.80px;font-size:12.8px;color:#747474;letter-spacing:-0.075px;">55X72mm</div>
<div class="a" style="left:145.80px;top:1738.50px;font-size:12.8px;color:#747474;letter-spacing:-0.075px;">60X72mm</div>
<div class="a" style="left:375.40px;top:1624.60px;font-size:11px;color:#626262;">*</div>
<div class="a" style="left:381.00px;top:1624.20px;font-size:9.3px;color:#626262;letter-spacing:0.362px;">High quality imported EGI (electric galvanized) steel</div>
<div class="a" style="left:381.00px;top:1634.10px;font-size:9.3px;color:#626262;letter-spacing:0.359px;">sheet for casing, thickness 1.5mm, firm and strong.</div>
<div class="a" style="left:375.40px;top:1650.00px;font-size:11px;color:#626262;">*</div>
<div class="a" style="left:381.00px;top:1649.60px;font-size:9.3px;color:#626262;letter-spacing:0.452px;">Solid investment-casting stainless steel for cam, strong</div>
<div class="a" style="left:381.00px;top:1659.60px;font-size:9.3px;color:#626262;letter-spacing:0.378px;">and durable. Octagon design, fitting many kinds of</div>
<div class="a" style="left:381.00px;top:1669.50px;font-size:9.3px;color:#626262;letter-spacing:0.361px;">spindles in different shapes, size 8x8 mm.</div>
<div class="a" style="left:375.40px;top:1685.90px;font-size:11px;color:#626262;">*</div>
<div class="a" style="left:381.00px;top:1685.50px;font-size:9.3px;color:#626262;letter-spacing:0.411px;">Solid stainless steel for bolts, both one-piece and three-</div>
<div class="a" style="left:381.00px;top:1695.40px;font-size:9.3px;color:#626262;letter-spacing:0.456px;">piece bolt available for choices, two throws, hardened-</div>
<div class="a" style="left:381.00px;top:1704.60px;font-size:9.3px;color:#626262;letter-spacing:0.407px;">steel rods inside, anti-cut, strong and high security.</div>
<div class="a" style="left:375.40px;top:1720.40px;font-size:11px;color:#626262;">*</div>
<div class="a" style="left:381.00px;top:1720.00px;font-size:9.3px;color:#626262;letter-spacing:0.259px;">Solid investment-casting stainless steel for latch, strong</div>
<div class="a" style="left:381.00px;top:1729.90px;font-size:9.3px;color:#626262;letter-spacing:0.359px;">and durable, easily reversible for left and right handing.</div>
<div class="a" style="left:375.40px;top:1746.20px;font-size:11px;color:#626262;">*</div>
<div class="a" style="left:381.00px;top:1745.80px;font-size:9.3px;color:#626262;letter-spacing:0.408px;">Solid stainless steel or brass for forend (thickness 3.0mm)</div>
<div class="a" style="left:381.00px;top:1755.80px;font-size:9.3px;color:#626262;letter-spacing:0.437px;">and strike plate (thickness 1.5mm).</div>
<div class="a" style="left:375.40px;top:1772.10px;font-size:11px;color:#626262;">*</div>
<div class="a" style="left:381.00px;top:1771.70px;font-size:9.3px;color:#626262;letter-spacing:0.352px;">Forend and strike plate in SS finish are processed by new</div>
<div class="a" style="left:381.00px;top:1781.70px;font-size:9.3px;color:#626262;letter-spacing:0.417px;">surface technique with water-polished machine, the</div>
<div class="a" style="left:381.00px;top:1790.80px;font-size:9.3px;color:#626262;letter-spacing:0.406px;">surface is smoother and more shinning, looks higher</div>
<div class="a" style="left:381.00px;top:1800.40px;font-size:9.3px;color:#626262;letter-spacing:0.376px;">class.</div>
<div class="a" style="left:375.40px;top:1811.60px;font-size:11px;color:#626262;">*</div>
<div class="a" style="left:381.00px;top:1810.85px;font-size:9.6px;color:#626262;letter-spacing:0.304px;">外壳采用厚达1.5mm的进口耐指纹电解板制造，厚实坚固。</div>
<div class="a" style="left:375.40px;top:1829.50px;font-size:11px;color:#626262;">*</div>
<div class="a" style="left:381.00px;top:1828.75px;font-size:9.6px;color:#626262;letter-spacing:-0.064px;">实心精铸不锈钢拨舵，坚固耐用, 八角形设计，兼容多种不</div>
<div class="a" style="left:380.00px;top:1839.85px;font-size:9.6px;color:#626262;letter-spacing:0.413px;">同形状的方杆，尺寸8x8 mm。</div>
<div class="a" style="left:375.40px;top:1855.40px;font-size:11px;color:#626262;">*</div>
<div class="a" style="left:381.00px;top:1854.65px;font-size:9.6px;color:#626262;letter-spacing:-0.044px;">实心不锈钢方舌，一字舌或三叉舌供选择，两段伸出，带有</div>
<div class="a" style="left:381.00px;top:1865.75px;font-size:9.6px;color:#626262;letter-spacing:0.133px;">加粗的特种防锯销，防锯，坚固，安全系数更高。</div>
<div class="a" style="left:375.40px;top:1882.70px;font-size:11px;color:#626262;">*</div>
<div class="a" style="left:381.00px;top:1881.95px;font-size:9.6px;color:#626262;letter-spacing:-0.005px;">实心精铸不锈钢斜舌，坚固耐用，左右开门方向转换方便。</div>
<div class="a" style="left:375.40px;top:1900.60px;font-size:11px;color:#626262;">*</div>
<div class="a" style="left:381.00px;top:1899.85px;font-size:9.6px;color:#626262;letter-spacing:0.082px;">实心不锈钢或铜材料锁体衬板（厚达3.0mm）和门扣板（厚</div>
<div class="a" style="left:381.00px;top:1910.65px;font-size:9.6px;color:#626262;letter-spacing:1.130px;">达1.5mm）。</div>
<div class="a" style="left:375.40px;top:1926.60px;font-size:11px;color:#626262;">*</div>
<div class="a" style="left:381.00px;top:1925.85px;font-size:9.6px;color:#626262;letter-spacing:-0.116px;">SS面饰的衬板和门扣板采用最新的水磨工艺，表面更加光</div>
<div class="a" style="left:381.00px;top:1936.55px;font-size:9.6px;color:#626262;letter-spacing:0.236px;">滑和明亮，看起来更高档美观。</div>
<div class="a" style="left:21.20px;top:1774.40px;font-size:9.2px;color:#747474;letter-spacing:0.138px;">Lock case with three-piece bolt</div>
<div class="a" style="left:21.20px;top:1783.19px;font-size:8.4px;color:#747474;letter-spacing:0.774px;">锁体配三叉方舌</div>
<div class="a" style="left:201.80px;top:1774.40px;font-size:9.2px;color:#747474;letter-spacing:0.147px;">Lock case with one-piece bolt</div>
<div class="a" style="left:201.80px;top:1783.19px;font-size:8.4px;color:#747474;letter-spacing:0.774px;">锁体配一字方舌</div>
<div class="a" style="left:27.40px;top:2033.20px;font-size:13.4px;color:#b99a5c;font-weight:bold;letter-spacing:0.261px;">DETAILS DESCRIPTION FOR CYLINDER</div>
<div class="a" style="left:27.40px;top:2047.86px;font-size:13.7px;color:#b99a5c;letter-spacing:-0.103px;-webkit-text-stroke:0.3px currentColor;">锁芯参数说明</div>
<div class="a" style="left:27.40px;top:2077.30px;font-size:11.8px;color:#222;font-weight:bold;letter-spacing:0.058px;">One-side key cylinder</div>
<div class="a" style="left:27.40px;top:2090.32px;font-size:9.8px;color:#222;font-weight:bold;letter-spacing:1.625px;">单开锁头</div>
<div class="a" style="left:23.80px;top:2175.50px;font-size:11.8px;color:#222;font-weight:bold;letter-spacing:0.111px;">Both-side keys cylinder</div>
<div class="a" style="left:23.80px;top:2188.32px;font-size:9.8px;color:#222;font-weight:bold;letter-spacing:1.625px;">双开锁头</div>
<div class="a" style="left:29.40px;top:2273.90px;font-size:12.4px;color:#222;font-weight:bold;letter-spacing:-0.220px;">Supplying Size</div>
<div class="a" style="left:116.80px;top:2275.02px;font-size:11.5px;color:#222;letter-spacing:-0.292px;">可选尺寸</div>
<div class="a" style="left:28.40px;top:2290.90px;font-size:12.6px;color:#747474;letter-spacing:-0.007px;">60mm, 70mm , 80mm , 90mm , 100mm</div>
<div class="a" style="left:37.80px;top:2328.90px;font-size:11.8px;color:#222;font-weight:bold;letter-spacing:0.131px;">Fire-Proof Certificate</div>
<div class="a" style="left:37.80px;top:2341.06px;font-size:10.3px;color:#222;font-weight:bold;letter-spacing:1.333px;">防火认证</div>
<div class="a" style="left:262.60px;top:2092.80px;font-size:13px;color:#626262;">*</div>
<div class="a" style="left:269.80px;top:2091.00px;font-size:13px;color:#626262;letter-spacing:-0.010px;">High quality solid brass cylinder (Brass casing, plugs and pins).</div>
<div class="a" style="left:262.60px;top:2113.50px;font-size:13px;color:#626262;">*</div>
<div class="a" style="left:269.80px;top:2111.70px;font-size:13px;color:#626262;letter-spacing:0.241px;">High class computer keyway technology, <span style="color:#d89a3a;font-weight:bold">7</span> pins, processed with</div>
<div class="a" style="left:270.80px;top:2124.50px;font-size:13px;color:#626262;letter-spacing:-0.010px;">high precise CNC machines, pin-combination is much more</div>
<div class="a" style="left:270.80px;top:2136.80px;font-size:13px;color:#626262;letter-spacing:0.047px;">than international standard, high security.</div>
<div class="a" style="left:262.60px;top:2159.00px;font-size:13px;color:#626262;">*</div>
<div class="a" style="left:269.80px;top:2157.20px;font-size:13px;color:#626262;letter-spacing:-0.124px;">Each set with <span style="color:#d89a3a;font-weight:bold">5</span> pcs keys, all keys are made by solid brass,</div>
<div class="a" style="left:270.80px;top:2169.50px;font-size:13px;color:#626262;letter-spacing:-0.044px;">thickness 2.5mm.</div>
<div class="a" style="left:262.60px;top:2204.00px;font-size:13px;color:#626262;">*</div>
<div class="a" style="left:270.80px;top:2205.23px;font-size:10.6px;color:#626262;letter-spacing:0.749px;">优质全铜锁芯 (铜壳、铜胆和铜弹珠)。</div>
<div class="a" style="left:262.60px;top:2224.50px;font-size:13px;color:#626262;">*</div>
<div class="a" style="left:269.80px;top:2225.73px;font-size:10.6px;color:#626262;letter-spacing:0.676px;">高端电脑珠槽技术，<span style="color:#d89a3a;font-weight:bold">7</span>颗弹珠，以高精度数控设备加工，牙花组合远远</div>
<div class="a" style="left:269.80px;top:2237.43px;font-size:10.6px;color:#626262;letter-spacing:0.533px;">高于国际标准，杜绝不良互开！</div>
<div class="a" style="left:262.60px;top:2255.50px;font-size:13px;color:#626262;">*</div>
<div class="a" style="left:270.80px;top:2256.73px;font-size:10.6px;color:#626262;letter-spacing:0.869px;">每套锁具标配<span style="color:#d89a3a;font-weight:bold">5</span>条钥匙，所有钥匙用全铜材料制造，厚度2.5mm。</div>
</body></html>
